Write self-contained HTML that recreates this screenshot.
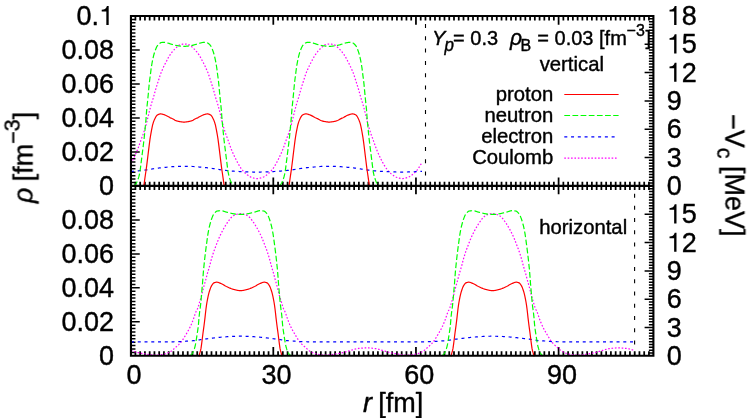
<!DOCTYPE html>
<html><head><meta charset="utf-8"><title>density profiles</title>
<style>
html,body{margin:0;padding:0;background:#fff;}
body{width:747px;height:418px;overflow:hidden;font-family:"Liberation Sans",sans-serif;}
svg{display:block;will-change:transform;}
text{font-family:"Liberation Sans",sans-serif;fill:#000;stroke:#000;stroke-width:0.4;stroke-linejoin:round;}
.c{fill:none;stroke-width:1.2;stroke-linejoin:round;}
</style></head><body>
<svg width="747" height="418" viewBox="0 0 747 418">
<defs><filter id="nf" x="0" y="0" width="747" height="418" filterUnits="userSpaceOnUse" color-interpolation-filters="sRGB"><feOffset dx="0" dy="0"/></filter></defs>
<rect width="747" height="418" fill="#fff"/>
<!-- ticks -->
<path d="M135.41,16.00L135.41,20.50M135.41,181.70L135.41,190.00M135.41,351.30L135.41,355.80M140.16,16.00L140.16,20.50M140.16,181.70L140.16,190.00M140.16,351.30L140.16,355.80M144.92,16.00L144.92,20.50M144.92,181.70L144.92,190.00M144.92,351.30L144.92,355.80M149.67,16.00L149.67,20.50M149.67,181.70L149.67,190.00M149.67,351.30L149.67,355.80M154.43,16.00L154.43,20.50M154.43,181.70L154.43,190.00M154.43,351.30L154.43,355.80M159.18,16.00L159.18,20.50M159.18,181.70L159.18,190.00M159.18,351.30L159.18,355.80M163.94,16.00L163.94,20.50M163.94,181.70L163.94,190.00M163.94,351.30L163.94,355.80M168.69,16.00L168.69,20.50M168.69,181.70L168.69,190.00M168.69,351.30L168.69,355.80M173.44,16.00L173.44,20.50M173.44,181.70L173.44,190.00M173.44,351.30L173.44,355.80M178.20,16.00L178.20,20.50M178.20,181.70L178.20,190.00M178.20,351.30L178.20,355.80M182.96,16.00L182.96,20.50M182.96,181.70L182.96,190.00M182.96,351.30L182.96,355.80M187.71,16.00L187.71,20.50M187.71,181.70L187.71,190.00M187.71,351.30L187.71,355.80M192.47,16.00L192.47,20.50M192.47,181.70L192.47,190.00M192.47,351.30L192.47,355.80M197.22,16.00L197.22,20.50M197.22,181.70L197.22,190.00M197.22,351.30L197.22,355.80M201.98,16.00L201.98,20.50M201.98,181.70L201.98,190.00M201.98,351.30L201.98,355.80M206.73,16.00L206.73,20.50M206.73,181.70L206.73,190.00M206.73,351.30L206.73,355.80M211.49,16.00L211.49,20.50M211.49,181.70L211.49,190.00M211.49,351.30L211.49,355.80M216.24,16.00L216.24,20.50M216.24,181.70L216.24,190.00M216.24,351.30L216.24,355.80M221.00,16.00L221.00,20.50M221.00,181.70L221.00,190.00M221.00,351.30L221.00,355.80M225.75,16.00L225.75,20.50M225.75,181.70L225.75,190.00M225.75,351.30L225.75,355.80M230.50,16.00L230.50,20.50M230.50,181.70L230.50,190.00M230.50,351.30L230.50,355.80M235.26,16.00L235.26,20.50M235.26,181.70L235.26,190.00M235.26,351.30L235.26,355.80M240.01,16.00L240.01,20.50M240.01,181.70L240.01,190.00M240.01,351.30L240.01,355.80M244.77,16.00L244.77,20.50M244.77,181.70L244.77,190.00M244.77,351.30L244.77,355.80M249.53,16.00L249.53,20.50M249.53,181.70L249.53,190.00M249.53,351.30L249.53,355.80M254.28,16.00L254.28,20.50M254.28,181.70L254.28,190.00M254.28,351.30L254.28,355.80M259.03,16.00L259.03,20.50M259.03,181.70L259.03,190.00M259.03,351.30L259.03,355.80M263.79,16.00L263.79,20.50M263.79,181.70L263.79,190.00M263.79,351.30L263.79,355.80M268.55,16.00L268.55,20.50M268.55,181.70L268.55,190.00M268.55,351.30L268.55,355.80M273.30,16.00L273.30,24.80M273.30,177.40L273.30,194.30M273.30,347.00L273.30,355.80M278.06,16.00L278.06,20.50M278.06,181.70L278.06,190.00M278.06,351.30L278.06,355.80M282.81,16.00L282.81,20.50M282.81,181.70L282.81,190.00M282.81,351.30L282.81,355.80M287.56,16.00L287.56,20.50M287.56,181.70L287.56,190.00M287.56,351.30L287.56,355.80M292.32,16.00L292.32,20.50M292.32,181.70L292.32,190.00M292.32,351.30L292.32,355.80M297.07,16.00L297.07,20.50M297.07,181.70L297.07,190.00M297.07,351.30L297.07,355.80M301.83,16.00L301.83,20.50M301.83,181.70L301.83,190.00M301.83,351.30L301.83,355.80M306.59,16.00L306.59,20.50M306.59,181.70L306.59,190.00M306.59,351.30L306.59,355.80M311.34,16.00L311.34,20.50M311.34,181.70L311.34,190.00M311.34,351.30L311.34,355.80M316.10,16.00L316.10,20.50M316.10,181.70L316.10,190.00M316.10,351.30L316.10,355.80M320.85,16.00L320.85,20.50M320.85,181.70L320.85,190.00M320.85,351.30L320.85,355.80M325.61,16.00L325.61,20.50M325.61,181.70L325.61,190.00M325.61,351.30L325.61,355.80M330.36,16.00L330.36,20.50M330.36,181.70L330.36,190.00M330.36,351.30L330.36,355.80M335.12,16.00L335.12,20.50M335.12,181.70L335.12,190.00M335.12,351.30L335.12,355.80M339.87,16.00L339.87,20.50M339.87,181.70L339.87,190.00M339.87,351.30L339.87,355.80M344.62,16.00L344.62,20.50M344.62,181.70L344.62,190.00M344.62,351.30L344.62,355.80M349.38,16.00L349.38,20.50M349.38,181.70L349.38,190.00M349.38,351.30L349.38,355.80M354.13,16.00L354.13,20.50M354.13,181.70L354.13,190.00M354.13,351.30L354.13,355.80M358.89,16.00L358.89,20.50M358.89,181.70L358.89,190.00M358.89,351.30L358.89,355.80M363.64,16.00L363.64,20.50M363.64,181.70L363.64,190.00M363.64,351.30L363.64,355.80M368.40,16.00L368.40,20.50M368.40,181.70L368.40,190.00M368.40,351.30L368.40,355.80M373.15,16.00L373.15,20.50M373.15,181.70L373.15,190.00M373.15,351.30L373.15,355.80M377.91,16.00L377.91,20.50M377.91,181.70L377.91,190.00M377.91,351.30L377.91,355.80M382.66,16.00L382.66,20.50M382.66,181.70L382.66,190.00M382.66,351.30L382.66,355.80M387.42,16.00L387.42,20.50M387.42,181.70L387.42,190.00M387.42,351.30L387.42,355.80M392.17,16.00L392.17,20.50M392.17,181.70L392.17,190.00M392.17,351.30L392.17,355.80M396.93,16.00L396.93,20.50M396.93,181.70L396.93,190.00M396.93,351.30L396.93,355.80M401.68,16.00L401.68,20.50M401.68,181.70L401.68,190.00M401.68,351.30L401.68,355.80M406.44,16.00L406.44,20.50M406.44,181.70L406.44,190.00M406.44,351.30L406.44,355.80M411.20,16.00L411.20,20.50M411.20,181.70L411.20,190.00M411.20,351.30L411.20,355.80M415.95,16.00L415.95,24.80M415.95,177.40L415.95,194.30M415.95,347.00L415.95,355.80M420.71,16.00L420.71,20.50M420.71,181.70L420.71,190.00M420.71,351.30L420.71,355.80M425.46,16.00L425.46,20.50M425.46,181.70L425.46,190.00M425.46,351.30L425.46,355.80M430.22,16.00L430.22,20.50M430.22,181.70L430.22,190.00M430.22,351.30L430.22,355.80M434.97,16.00L434.97,20.50M434.97,181.70L434.97,190.00M434.97,351.30L434.97,355.80M439.73,16.00L439.73,20.50M439.73,181.70L439.73,190.00M439.73,351.30L439.73,355.80M444.48,16.00L444.48,20.50M444.48,181.70L444.48,190.00M444.48,351.30L444.48,355.80M449.24,16.00L449.24,20.50M449.24,181.70L449.24,190.00M449.24,351.30L449.24,355.80M453.99,16.00L453.99,20.50M453.99,181.70L453.99,190.00M453.99,351.30L453.99,355.80M458.75,16.00L458.75,20.50M458.75,181.70L458.75,190.00M458.75,351.30L458.75,355.80M463.50,16.00L463.50,20.50M463.50,181.70L463.50,190.00M463.50,351.30L463.50,355.80M468.25,16.00L468.25,20.50M468.25,181.70L468.25,190.00M468.25,351.30L468.25,355.80M473.01,16.00L473.01,20.50M473.01,181.70L473.01,190.00M473.01,351.30L473.01,355.80M477.76,16.00L477.76,20.50M477.76,181.70L477.76,190.00M477.76,351.30L477.76,355.80M482.52,16.00L482.52,20.50M482.52,181.70L482.52,190.00M482.52,351.30L482.52,355.80M487.27,16.00L487.27,20.50M487.27,181.70L487.27,190.00M487.27,351.30L487.27,355.80M492.03,16.00L492.03,20.50M492.03,181.70L492.03,190.00M492.03,351.30L492.03,355.80M496.78,16.00L496.78,20.50M496.78,181.70L496.78,190.00M496.78,351.30L496.78,355.80M501.54,16.00L501.54,20.50M501.54,181.70L501.54,190.00M501.54,351.30L501.54,355.80M506.29,16.00L506.29,20.50M506.29,181.70L506.29,190.00M506.29,351.30L506.29,355.80M511.05,16.00L511.05,20.50M511.05,181.70L511.05,190.00M511.05,351.30L511.05,355.80M515.80,16.00L515.80,20.50M515.80,181.70L515.80,190.00M515.80,351.30L515.80,355.80M520.56,16.00L520.56,20.50M520.56,181.70L520.56,190.00M520.56,351.30L520.56,355.80M525.31,16.00L525.31,20.50M525.31,181.70L525.31,190.00M525.31,351.30L525.31,355.80M530.07,16.00L530.07,20.50M530.07,181.70L530.07,190.00M530.07,351.30L530.07,355.80M534.83,16.00L534.83,20.50M534.83,181.70L534.83,190.00M534.83,351.30L534.83,355.80M539.58,16.00L539.58,20.50M539.58,181.70L539.58,190.00M539.58,351.30L539.58,355.80M544.34,16.00L544.34,20.50M544.34,181.70L544.34,190.00M544.34,351.30L544.34,355.80M549.09,16.00L549.09,20.50M549.09,181.70L549.09,190.00M549.09,351.30L549.09,355.80M553.85,16.00L553.85,20.50M553.85,181.70L553.85,190.00M553.85,351.30L553.85,355.80M558.60,16.00L558.60,24.80M558.60,177.40L558.60,194.30M558.60,347.00L558.60,355.80M563.36,16.00L563.36,20.50M563.36,181.70L563.36,190.00M563.36,351.30L563.36,355.80M568.11,16.00L568.11,20.50M568.11,181.70L568.11,190.00M568.11,351.30L568.11,355.80M572.87,16.00L572.87,20.50M572.87,181.70L572.87,190.00M572.87,351.30L572.87,355.80M577.62,16.00L577.62,20.50M577.62,181.70L577.62,190.00M577.62,351.30L577.62,355.80M582.38,16.00L582.38,20.50M582.38,181.70L582.38,190.00M582.38,351.30L582.38,355.80M587.13,16.00L587.13,20.50M587.13,181.70L587.13,190.00M587.13,351.30L587.13,355.80M591.88,16.00L591.88,20.50M591.88,181.70L591.88,190.00M591.88,351.30L591.88,355.80M596.64,16.00L596.64,20.50M596.64,181.70L596.64,190.00M596.64,351.30L596.64,355.80M601.39,16.00L601.39,20.50M601.39,181.70L601.39,190.00M601.39,351.30L601.39,355.80M606.15,16.00L606.15,20.50M606.15,181.70L606.15,190.00M606.15,351.30L606.15,355.80M610.90,16.00L610.90,20.50M610.90,181.70L610.90,190.00M610.90,351.30L610.90,355.80M615.66,16.00L615.66,20.50M615.66,181.70L615.66,190.00M615.66,351.30L615.66,355.80M620.41,16.00L620.41,20.50M620.41,181.70L620.41,190.00M620.41,351.30L620.41,355.80M625.17,16.00L625.17,20.50M625.17,181.70L625.17,190.00M625.17,351.30L625.17,355.80M629.92,16.00L629.92,20.50M629.92,181.70L629.92,190.00M629.92,351.30L629.92,355.80M634.68,16.00L634.68,20.50M634.68,181.70L634.68,190.00M634.68,351.30L634.68,355.80M639.43,16.00L639.43,20.50M639.43,181.70L639.43,190.00M639.43,351.30L639.43,355.80M644.19,16.00L644.19,20.50M644.19,181.70L644.19,190.00M644.19,351.30L644.19,355.80M648.94,16.00L648.94,20.50M648.94,181.70L648.94,190.00M648.94,351.30L648.94,355.80" stroke="#000" stroke-width="1.75" fill="none"/>
<path d="M130.95,182.45L135.45,182.45M130.95,179.06L135.45,179.06M130.95,175.66L135.45,175.66M130.95,172.26L135.45,172.26M130.95,168.87L135.45,168.87M130.95,165.47L135.45,165.47M130.95,162.07L135.45,162.07M130.95,158.67L135.45,158.67M130.95,155.28L135.45,155.28M130.95,151.88L139.75,151.88M130.95,148.48L135.45,148.48M130.95,145.09L135.45,145.09M130.95,141.69L135.45,141.69M130.95,138.29L135.45,138.29M130.95,134.89L135.45,134.89M130.95,131.50L135.45,131.50M130.95,128.10L135.45,128.10M130.95,124.70L135.45,124.70M130.95,121.31L135.45,121.31M130.95,117.91L139.75,117.91M130.95,114.51L135.45,114.51M130.95,111.12L135.45,111.12M130.95,107.72L135.45,107.72M130.95,104.32L135.45,104.32M130.95,100.92L135.45,100.92M130.95,97.53L135.45,97.53M130.95,94.13L135.45,94.13M130.95,90.73L135.45,90.73M130.95,87.34L135.45,87.34M130.95,83.94L139.75,83.94M130.95,80.54L135.45,80.54M130.95,77.15L135.45,77.15M130.95,73.75L135.45,73.75M130.95,70.35L135.45,70.35M130.95,66.95L135.45,66.95M130.95,63.56L135.45,63.56M130.95,60.16L135.45,60.16M130.95,56.76L135.45,56.76M130.95,53.37L135.45,53.37M130.95,49.97L139.75,49.97M130.95,46.57L135.45,46.57M130.95,43.18L135.45,43.18M130.95,39.78L135.45,39.78M130.95,36.38L135.45,36.38M130.95,32.99L135.45,32.99M130.95,29.59L135.45,29.59M130.95,26.19L135.45,26.19M130.95,22.79L135.45,22.79M130.95,19.40L135.45,19.40M130.95,352.40L135.45,352.40M130.95,349.01L135.45,349.01M130.95,345.61L135.45,345.61M130.95,342.21L135.45,342.21M130.95,338.81L135.45,338.81M130.95,335.42L135.45,335.42M130.95,332.02L135.45,332.02M130.95,328.62L135.45,328.62M130.95,325.23L135.45,325.23M130.95,321.83L139.75,321.83M130.95,318.43L135.45,318.43M130.95,315.04L135.45,315.04M130.95,311.64L135.45,311.64M130.95,308.24L135.45,308.24M130.95,304.85L135.45,304.85M130.95,301.45L135.45,301.45M130.95,298.05L135.45,298.05M130.95,294.65L135.45,294.65M130.95,291.26L135.45,291.26M130.95,287.86L139.75,287.86M130.95,284.46L135.45,284.46M130.95,281.07L135.45,281.07M130.95,277.67L135.45,277.67M130.95,274.27L135.45,274.27M130.95,270.88L135.45,270.88M130.95,267.48L135.45,267.48M130.95,264.08L135.45,264.08M130.95,260.68L135.45,260.68M130.95,257.29L135.45,257.29M130.95,253.89L139.75,253.89M130.95,250.49L135.45,250.49M130.95,247.10L135.45,247.10M130.95,243.70L135.45,243.70M130.95,240.30L135.45,240.30M130.95,236.91L135.45,236.91M130.95,233.51L135.45,233.51M130.95,230.11L135.45,230.11M130.95,226.71L135.45,226.71M130.95,223.32L135.45,223.32M130.95,219.92L139.75,219.92M130.95,216.52L135.45,216.52M130.95,213.13L135.45,213.13M130.95,209.73L135.45,209.73M130.95,206.33L135.45,206.33M130.95,202.94L135.45,202.94M130.95,199.54L135.45,199.54M130.95,196.14L135.45,196.14M130.95,192.74L135.45,192.74M130.95,189.35L135.45,189.35M653.40,183.02L648.90,183.02M653.40,180.19L648.90,180.19M653.40,177.36L648.90,177.36M653.40,174.53L648.90,174.53M653.40,171.70L648.90,171.70M653.40,168.87L648.90,168.87M653.40,166.03L648.90,166.03M653.40,163.20L648.90,163.20M653.40,160.37L648.90,160.37M653.40,157.54L644.60,157.54M653.40,154.71L648.90,154.71M653.40,151.88L648.90,151.88M653.40,149.05L648.90,149.05M653.40,146.22L648.90,146.22M653.40,143.39L648.90,143.39M653.40,140.56L648.90,140.56M653.40,137.73L648.90,137.73M653.40,134.89L648.90,134.89M653.40,132.06L648.90,132.06M653.40,129.23L644.60,129.23M653.40,126.40L648.90,126.40M653.40,123.57L648.90,123.57M653.40,120.74L648.90,120.74M653.40,117.91L648.90,117.91M653.40,115.08L648.90,115.08M653.40,112.25L648.90,112.25M653.40,109.42L648.90,109.42M653.40,106.59L648.90,106.59M653.40,103.76L648.90,103.76M653.40,100.92L644.60,100.92M653.40,98.09L648.90,98.09M653.40,95.26L648.90,95.26M653.40,92.43L648.90,92.43M653.40,89.60L648.90,89.60M653.40,86.77L648.90,86.77M653.40,83.94L648.90,83.94M653.40,81.11L648.90,81.11M653.40,78.28L648.90,78.28M653.40,75.45L648.90,75.45M653.40,72.62L644.60,72.62M653.40,69.79L648.90,69.79M653.40,66.95L648.90,66.95M653.40,64.12L648.90,64.12M653.40,61.29L648.90,61.29M653.40,58.46L648.90,58.46M653.40,55.63L648.90,55.63M653.40,52.80L648.90,52.80M653.40,49.97L648.90,49.97M653.40,47.14L648.90,47.14M653.40,44.31L644.60,44.31M653.40,41.48L648.90,41.48M653.40,38.65L648.90,38.65M653.40,35.82L648.90,35.82M653.40,32.99L648.90,32.99M653.40,30.15L648.90,30.15M653.40,27.32L648.90,27.32M653.40,24.49L648.90,24.49M653.40,21.66L648.90,21.66M653.40,18.83L648.90,18.83M653.40,352.97L648.90,352.97M653.40,350.14L648.90,350.14M653.40,347.31L648.90,347.31M653.40,344.48L648.90,344.48M653.40,341.65L648.90,341.65M653.40,338.81L648.90,338.81M653.40,335.98L648.90,335.98M653.40,333.15L648.90,333.15M653.40,330.32L648.90,330.32M653.40,327.49L644.60,327.49M653.40,324.66L648.90,324.66M653.40,321.83L648.90,321.83M653.40,319.00L648.90,319.00M653.40,316.17L648.90,316.17M653.40,313.34L648.90,313.34M653.40,310.51L648.90,310.51M653.40,307.68L648.90,307.68M653.40,304.85L648.90,304.85M653.40,302.01L648.90,302.01M653.40,299.18L644.60,299.18M653.40,296.35L648.90,296.35M653.40,293.52L648.90,293.52M653.40,290.69L648.90,290.69M653.40,287.86L648.90,287.86M653.40,285.03L648.90,285.03M653.40,282.20L648.90,282.20M653.40,279.37L648.90,279.37M653.40,276.54L648.90,276.54M653.40,273.71L648.90,273.71M653.40,270.88L644.60,270.88M653.40,268.04L648.90,268.04M653.40,265.21L648.90,265.21M653.40,262.38L648.90,262.38M653.40,259.55L648.90,259.55M653.40,256.72L648.90,256.72M653.40,253.89L648.90,253.89M653.40,251.06L648.90,251.06M653.40,248.23L648.90,248.23M653.40,245.40L648.90,245.40M653.40,242.57L644.60,242.57M653.40,239.74L648.90,239.74M653.40,236.91L648.90,236.91M653.40,234.07L648.90,234.07M653.40,231.24L648.90,231.24M653.40,228.41L648.90,228.41M653.40,225.58L648.90,225.58M653.40,222.75L648.90,222.75M653.40,219.92L648.90,219.92M653.40,217.09L648.90,217.09M653.40,214.26L644.60,214.26M653.40,211.43L648.90,211.43M653.40,208.60L648.90,208.60M653.40,205.77L648.90,205.77M653.40,202.94L648.90,202.94M653.40,200.10L648.90,200.10M653.40,197.27L648.90,197.27M653.40,194.44L648.90,194.44M653.40,191.61L648.90,191.61M653.40,188.78L648.90,188.78" stroke="#000" stroke-width="1.5" fill="none"/>
<!-- vertical dashed period markers -->
<path d="M425.5,16V186" stroke="#000" stroke-width="1.1" stroke-dasharray="4.0 8.3" stroke-dashoffset="4.3" fill="none"/>
<path d="M634.6,186V356" stroke="#000" stroke-width="1.1" stroke-dasharray="4.0 8.23" stroke-dashoffset="4.6" fill="none"/>
<!-- curves: top panel -->
<path class="c" d="M131.00,163.43 L131.50,162.51 L132.00,161.56 L132.50,160.59 L133.00,159.60 L133.50,158.59 L134.00,157.56 L134.50,156.50 L135.00,155.43 L135.50,154.35 L136.00,153.26 L136.50,152.13 L137.00,150.97 L137.50,149.75 L138.00,148.46 L138.50,147.10 L139.00,145.71 L139.50,144.29 L140.00,142.88 L140.50,141.47 L141.00,140.04 L141.50,138.65 L142.00,137.31 L142.50,135.99 L143.00,134.64 L143.50,133.21 L144.00,131.71 L144.50,130.16 L145.00,128.55 L145.50,126.86 L146.00,125.07 L146.50,123.12 L147.00,121.07 L147.50,119.01 L148.00,116.99 L148.50,114.97 L149.00,112.94 L149.50,110.94 L150.00,108.98 L150.50,107.09 L151.00,105.25 L151.50,103.53 L152.00,101.92 L152.50,100.37 L153.00,98.81 L153.50,97.16 L154.00,95.40 L154.50,93.57 L155.00,91.73 L155.50,89.93 L156.00,88.23 L156.50,86.60 L157.00,85.02 L157.50,83.46 L158.00,81.92 L158.50,80.37 L159.00,78.79 L159.50,77.22 L160.00,75.69 L160.50,74.22 L161.00,72.86 L161.50,71.63 L162.00,70.51 L162.50,69.40 L163.00,68.25 L163.50,67.10 L164.00,66.00 L164.50,64.98 L165.00,64.00 L165.50,63.04 L166.00,62.11 L166.50,61.17 L167.00,60.21 L167.50,59.23 L168.00,58.26 L168.50,57.34 L169.00,56.50 L169.50,55.71 L170.00,54.94 L170.50,54.21 L171.00,53.51 L171.50,52.83 L172.00,52.18 L172.50,51.56 L173.00,50.97 L173.50,50.40 L174.00,49.86 L174.50,49.33 L175.00,48.82 L175.50,48.33 L176.00,47.85 L176.50,47.40 L177.00,46.94 L177.50,46.46 L178.00,45.99 L178.50,45.57 L179.00,45.23 L179.50,45.00 L180.00,44.84 L180.50,44.68 L181.00,44.54 L181.50,44.41 L182.00,44.29 L182.50,44.19 L183.00,44.11 L183.50,44.05 L184.00,44.01 L184.50,44.00 L185.00,44.01 L185.50,44.05 L186.00,44.11 L186.50,44.19 L187.00,44.29 L187.50,44.41 L188.00,44.54 L188.50,44.68 L189.00,44.84 L189.50,45.00 L190.00,45.23 L190.50,45.57 L191.00,45.99 L191.50,46.46 L192.00,46.94 L192.50,47.40 L193.00,47.85 L193.50,48.33 L194.00,48.82 L194.50,49.33 L195.00,49.86 L195.50,50.40 L196.00,50.97 L196.50,51.56 L197.00,52.18 L197.50,52.83 L198.00,53.51 L198.50,54.21 L199.00,54.94 L199.50,55.71 L200.00,56.50 L200.50,57.34 L201.00,58.26 L201.50,59.23 L202.00,60.21 L202.50,61.17 L203.00,62.11 L203.50,63.04 L204.00,64.00 L204.50,64.98 L205.00,66.00 L205.50,67.10 L206.00,68.25 L206.50,69.40 L207.00,70.51 L207.50,71.63 L208.00,72.86 L208.50,74.22 L209.00,75.69 L209.50,77.22 L210.00,78.79 L210.50,80.37 L211.00,81.92 L211.50,83.46 L212.00,85.02 L212.50,86.60 L213.00,88.23 L213.50,89.93 L214.00,91.73 L214.50,93.57 L215.00,95.40 L215.50,97.16 L216.00,98.81 L216.50,100.37 L217.00,101.92 L217.50,103.53 L218.00,105.25 L218.50,107.09 L219.00,108.98 L219.50,110.94 L220.00,112.94 L220.50,114.97 L221.00,116.99 L221.50,119.01 L222.00,121.07 L222.50,123.12 L223.00,125.07 L223.50,126.86 L224.00,128.55 L224.50,130.16 L225.00,131.71 L225.50,133.21 L226.00,134.64 L226.50,135.99 L227.00,137.31 L227.50,138.65 L228.00,140.04 L228.50,141.47 L229.00,142.88 L229.50,144.29 L230.00,145.71 L230.50,147.10 L231.00,148.46 L231.50,149.75 L232.00,150.97 L232.50,152.13 L233.00,153.26 L233.50,154.35 L234.00,155.43 L234.50,156.50 L235.00,157.56 L235.50,158.59 L236.00,159.60 L236.50,160.59 L237.00,161.56 L237.50,162.51 L238.00,163.43 L238.50,164.30 L239.00,165.14 L239.50,165.97 L240.00,166.77 L240.50,167.55 L241.00,168.30 L241.50,169.01 L242.00,169.67 L242.50,170.28 L243.00,170.85 L243.50,171.41 L244.00,171.94 L244.50,172.45 L245.00,172.94 L245.50,173.40 L246.00,173.83 L246.50,174.24 L247.00,174.63 L247.50,174.99 L248.00,175.35 L248.50,175.70 L249.00,176.03 L249.50,176.35 L250.00,176.65 L250.50,176.92 L251.00,177.16 L251.50,177.36 L252.00,177.53 L252.50,177.69 L253.00,177.84 L253.50,177.98 L254.00,178.12 L254.50,178.24 L255.00,178.35 L255.50,178.44 L256.00,178.52 L256.50,178.57 L257.00,178.60 L257.50,178.58 L258.00,178.54 L258.50,178.48 L259.00,178.39 L259.50,178.29 L260.00,178.17 L260.50,178.04 L261.00,177.90 L261.50,177.75 L262.00,177.59 L262.50,177.43 L263.00,177.24 L263.50,177.02 L264.00,176.76 L264.50,176.47 L265.00,176.16 L265.50,175.83 L266.00,175.49 L266.50,175.13 L267.00,174.77 L267.50,174.40 L268.00,174.00 L268.50,173.58 L269.00,173.12 L269.50,172.65 L270.00,172.15 L270.50,171.63 L271.00,171.08 L271.50,170.51 L272.00,169.92 L272.50,169.28 L273.00,168.59 L273.50,167.86 L274.00,167.09 L274.50,166.29 L275.00,165.47 L275.50,164.64 L276.00,163.78 L276.50,162.88 L277.00,161.95 L277.50,160.98 L278.00,160.00 L278.50,159.00 L279.00,157.98 L279.50,156.93 L280.00,155.86 L280.50,154.79 L281.00,153.70 L281.50,152.59 L282.00,151.44 L282.50,150.25 L283.00,148.99 L283.50,147.65 L284.00,146.27 L284.50,144.86 L285.00,143.44 L285.50,142.04 L286.00,140.61 L286.50,139.20 L287.00,137.84 L287.50,136.52 L288.00,135.19 L288.50,133.79 L289.00,132.31 L289.50,130.79 L290.00,129.20 L290.50,127.54 L291.00,125.80 L291.50,123.92 L292.00,121.90 L292.50,119.83 L293.00,117.80 L293.50,115.78 L294.00,113.75 L294.50,111.73 L295.00,109.76 L295.50,107.84 L296.00,105.98 L296.50,104.20 L297.00,102.55 L297.50,100.99 L298.00,99.44 L298.50,97.83 L299.00,96.11 L299.50,94.30 L300.00,92.46 L300.50,90.64 L301.00,88.90 L301.50,87.25 L302.00,85.65 L302.50,84.08 L303.00,82.53 L303.50,80.99 L304.00,79.42 L304.50,77.85 L305.00,76.30 L305.50,74.80 L306.00,73.39 L306.50,72.10 L307.00,70.95 L307.50,69.85 L308.00,68.71 L308.50,67.55 L309.00,66.43 L309.50,65.38 L310.00,64.38 L310.50,63.42 L311.00,62.48 L311.50,61.55 L312.00,60.60 L312.50,59.63 L313.00,58.65 L313.50,57.70 L314.00,56.83 L314.50,56.02 L315.00,55.25 L315.50,54.50 L316.00,53.79 L316.50,53.10 L317.00,52.44 L317.50,51.80 L318.00,51.20 L318.50,50.62 L319.00,50.07 L319.50,49.54 L320.00,49.02 L320.50,48.52 L321.00,48.04 L321.50,47.58 L322.00,47.13 L322.50,46.65 L323.00,46.18 L323.50,45.73 L324.00,45.36 L324.50,45.08 L325.00,44.90 L325.50,44.74 L326.00,44.59 L326.50,44.46 L327.00,44.33 L327.50,44.23 L328.00,44.14 L328.50,44.07 L329.00,44.02 L329.50,44.00 L330.00,44.00 L330.50,44.03 L331.00,44.08 L331.50,44.16 L332.00,44.25 L332.50,44.36 L333.00,44.48 L333.50,44.62 L334.00,44.77 L334.50,44.93 L335.00,45.13 L335.50,45.43 L336.00,45.82 L336.50,46.27 L337.00,46.75 L337.50,47.22 L338.00,47.67 L338.50,48.14 L339.00,48.62 L339.50,49.12 L340.00,49.64 L340.50,50.18 L341.00,50.74 L341.50,51.32 L342.00,51.93 L342.50,52.57 L343.00,53.24 L343.50,53.93 L344.00,54.65 L344.50,55.40 L345.00,56.18 L345.50,57.00 L346.00,57.89 L346.50,58.84 L347.00,59.82 L347.50,60.79 L348.00,61.73 L348.50,62.67 L349.00,63.61 L349.50,64.58 L350.00,65.58 L350.50,66.65 L351.00,67.78 L351.50,68.94 L352.00,70.07 L352.50,71.17 L353.00,72.35 L353.50,73.66 L354.00,75.09 L354.50,76.60 L355.00,78.16 L355.50,79.74 L356.00,81.30 L356.50,82.84 L357.00,84.39 L357.50,85.96 L358.00,87.57 L358.50,89.24 L359.00,91.00 L359.50,92.83 L360.00,94.67 L360.50,96.47 L361.00,98.16 L361.50,99.75 L362.00,101.30 L362.50,102.87 L363.00,104.55 L363.50,106.34 L364.00,108.22 L364.50,110.15 L365.00,112.13 L365.50,114.15 L366.00,116.18 L366.50,118.20 L367.00,120.24 L367.50,122.31 L368.00,124.31 L368.50,126.16 L369.00,127.88 L369.50,129.52 L370.00,131.10 L370.50,132.61 L371.00,134.08 L371.50,135.46 L372.00,136.79 L372.50,138.11 L373.00,139.48 L373.50,140.90 L374.00,142.32 L374.50,143.72 L375.00,145.14 L375.50,146.55 L376.00,147.92 L376.50,149.24 L377.00,150.49 L377.50,151.67 L378.00,152.81 L378.50,153.92 L379.00,155.00 L379.50,156.07 L380.00,157.14 L380.50,158.18 L381.00,159.20 L381.50,160.19 L382.00,161.17 L382.50,162.14 L383.00,163.07 L383.50,163.96 L384.00,164.80 L384.50,165.64 L385.00,166.45 L385.50,167.25 L386.00,168.01 L386.50,168.73 L387.00,169.41 L387.50,170.04 L388.00,170.63 L388.50,171.19 L389.00,171.73 L389.50,172.25 L390.00,172.75 L390.50,173.22 L391.00,173.66 L391.50,174.08 L392.00,174.48 L392.50,174.85 L393.00,175.21 L393.50,175.56 L394.00,175.90 L394.50,176.22 L395.00,176.53 L395.50,176.81 L396.00,177.06 L396.50,177.28 L397.00,177.47 L397.50,177.62 L398.00,177.78 L398.50,177.92 L399.00,178.06 L399.50,178.19 L400.00,178.31 L400.50,178.41 L401.00,178.49 L401.50,178.55 L402.00,178.59 L402.50,178.59 L403.00,178.56 L403.50,178.50 L404.00,178.43 L404.50,178.33 L405.00,178.22 L405.50,178.09 L406.00,177.95 L406.50,177.81 L407.00,177.66 L407.50,177.50 L408.00,177.32 L408.50,177.11 L409.00,176.86 L409.50,176.59 L410.00,176.29 L410.50,175.97 L411.00,175.63 L411.50,175.28 L412.00,174.92 L412.50,174.55 L413.00,174.16 L413.50,173.75 L414.00,173.31 L414.50,172.84 L415.00,172.35 L415.50,171.84 L416.00,171.30 L416.50,170.74 L417.00,170.16 L417.50,169.54 L418.00,168.87 L418.50,168.16 L419.00,167.40 L419.50,166.61 L420.00,165.80 L420.50,164.97 L421.00,164.13 L421.50,163.25 L422.00,162.32" stroke="#ff00ff" stroke-dasharray="1.6 1.78"/>
<path class="c" d="M131.00,171.39 L131.50,171.36 L132.00,171.33 L132.50,171.30 L133.00,171.27 L133.50,171.23 L134.00,171.20 L134.50,171.16 L135.00,171.12 L135.50,171.08 L136.00,171.04 L136.50,171.00 L137.00,170.95 L137.50,170.90 L138.00,170.85 L138.50,170.81 L139.00,170.75 L139.50,170.70 L140.00,170.65 L140.50,170.60 L141.00,170.55 L141.50,170.49 L142.00,170.44 L142.50,170.38 L143.00,170.33 L143.50,170.27 L144.00,170.21 L144.50,170.15 L145.00,170.09 L145.50,170.02 L146.00,169.96 L146.50,169.89 L147.00,169.83 L147.50,169.76 L148.00,169.68 L148.50,169.61 L149.00,169.53 L149.50,169.45 L150.00,169.36 L150.50,169.28 L151.00,169.19 L151.50,169.10 L152.00,169.02 L152.50,168.94 L153.00,168.85 L153.50,168.78 L154.00,168.70 L154.50,168.63 L155.00,168.55 L155.50,168.48 L156.00,168.41 L156.50,168.33 L157.00,168.26 L157.50,168.19 L158.00,168.12 L158.50,168.06 L159.00,167.99 L159.50,167.93 L160.00,167.87 L160.50,167.81 L161.00,167.76 L161.50,167.70 L162.00,167.65 L162.50,167.60 L163.00,167.55 L163.50,167.50 L164.00,167.46 L164.50,167.41 L165.00,167.37 L165.50,167.32 L166.00,167.28 L166.50,167.23 L167.00,167.19 L167.50,167.14 L168.00,167.10 L168.50,167.05 L169.00,167.01 L169.50,166.96 L170.00,166.90 L170.50,166.85 L171.00,166.80 L171.50,166.75 L172.00,166.71 L172.50,166.66 L173.00,166.62 L173.50,166.58 L174.00,166.55 L174.50,166.52 L175.00,166.50 L175.50,166.48 L176.00,166.46 L176.50,166.45 L177.00,166.43 L177.50,166.42 L178.00,166.40 L178.50,166.39 L179.00,166.37 L179.50,166.36 L180.00,166.35 L180.50,166.34 L181.00,166.33 L181.50,166.32 L182.00,166.31 L182.50,166.31 L183.00,166.30 L183.50,166.30 L184.00,166.30 L184.50,166.30 L185.00,166.30 L185.50,166.31 L186.00,166.31 L186.50,166.32 L187.00,166.33 L187.50,166.34 L188.00,166.35 L188.50,166.36 L189.00,166.37 L189.50,166.39 L190.00,166.40 L190.50,166.42 L191.00,166.43 L191.50,166.45 L192.00,166.46 L192.50,166.48 L193.00,166.50 L193.50,166.52 L194.00,166.55 L194.50,166.58 L195.00,166.62 L195.50,166.66 L196.00,166.71 L196.50,166.75 L197.00,166.80 L197.50,166.85 L198.00,166.90 L198.50,166.96 L199.00,167.01 L199.50,167.05 L200.00,167.10 L200.50,167.14 L201.00,167.19 L201.50,167.23 L202.00,167.28 L202.50,167.32 L203.00,167.37 L203.50,167.41 L204.00,167.46 L204.50,167.50 L205.00,167.55 L205.50,167.60 L206.00,167.65 L206.50,167.70 L207.00,167.76 L207.50,167.81 L208.00,167.87 L208.50,167.93 L209.00,167.99 L209.50,168.06 L210.00,168.12 L210.50,168.19 L211.00,168.26 L211.50,168.33 L212.00,168.41 L212.50,168.48 L213.00,168.55 L213.50,168.63 L214.00,168.70 L214.50,168.78 L215.00,168.85 L215.50,168.94 L216.00,169.02 L216.50,169.10 L217.00,169.19 L217.50,169.28 L218.00,169.36 L218.50,169.45 L219.00,169.53 L219.50,169.61 L220.00,169.68 L220.50,169.76 L221.00,169.83 L221.50,169.89 L222.00,169.96 L222.50,170.02 L223.00,170.09 L223.50,170.15 L224.00,170.21 L224.50,170.27 L225.00,170.33 L225.50,170.38 L226.00,170.44 L226.50,170.49 L227.00,170.55 L227.50,170.60 L228.00,170.65 L228.50,170.70 L229.00,170.75 L229.50,170.81 L230.00,170.85 L230.50,170.90 L231.00,170.95 L231.50,171.00 L232.00,171.04 L232.50,171.08 L233.00,171.12 L233.50,171.16 L234.00,171.20 L234.50,171.23 L235.00,171.27 L235.50,171.30 L236.00,171.33 L236.50,171.36 L237.00,171.39 L237.50,171.42 L238.00,171.45 L238.50,171.47 L239.00,171.50 L239.50,171.53 L240.00,171.55 L240.50,171.58 L241.00,171.60 L241.50,171.62 L242.00,171.65 L242.50,171.67 L243.00,171.70 L243.50,171.72 L244.00,171.74 L244.50,171.77 L245.00,171.79 L245.50,171.81 L246.00,171.83 L246.50,171.85 L247.00,171.87 L247.50,171.88 L248.00,171.90 L248.50,171.92 L249.00,171.93 L249.50,171.94 L250.00,171.96 L250.50,171.97 L251.00,171.99 L251.50,172.00 L252.00,172.01 L252.50,172.02 L253.00,172.04 L253.50,172.05 L254.00,172.06 L254.50,172.07 L255.00,172.08 L255.50,172.08 L256.00,172.09 L256.50,172.10 L257.00,172.09 L257.50,172.09 L258.00,172.08 L258.50,172.07 L259.00,172.06 L259.50,172.05 L260.00,172.04 L260.50,172.03 L261.00,172.02 L261.50,172.00 L262.00,171.99 L262.50,171.98 L263.00,171.96 L263.50,171.95 L264.00,171.94 L264.50,171.92 L265.00,171.91 L265.50,171.89 L266.00,171.87 L266.50,171.86 L267.00,171.84 L267.50,171.82 L268.00,171.80 L268.50,171.78 L269.00,171.75 L269.50,171.73 L270.00,171.71 L270.50,171.68 L271.00,171.66 L271.50,171.63 L272.00,171.61 L272.50,171.59 L273.00,171.56 L273.50,171.54 L274.00,171.51 L274.50,171.48 L275.00,171.46 L275.50,171.43 L276.00,171.40 L276.50,171.37 L277.00,171.34 L277.50,171.31 L278.00,171.28 L278.50,171.25 L279.00,171.21 L279.50,171.18 L280.00,171.14 L280.50,171.10 L281.00,171.06 L281.50,171.01 L282.00,170.97 L282.50,170.92 L283.00,170.87 L283.50,170.82 L284.00,170.77 L284.50,170.72 L285.00,170.67 L285.50,170.62 L286.00,170.57 L286.50,170.52 L287.00,170.46 L287.50,170.41 L288.00,170.35 L288.50,170.29 L289.00,170.23 L289.50,170.17 L290.00,170.11 L290.50,170.05 L291.00,169.99 L291.50,169.92 L292.00,169.85 L292.50,169.79 L293.00,169.71 L293.50,169.64 L294.00,169.56 L294.50,169.48 L295.00,169.40 L295.50,169.31 L296.00,169.22 L296.50,169.14 L297.00,169.05 L297.50,168.97 L298.00,168.89 L298.50,168.81 L299.00,168.73 L299.50,168.66 L300.00,168.58 L300.50,168.51 L301.00,168.43 L301.50,168.36 L302.00,168.29 L302.50,168.22 L303.00,168.15 L303.50,168.08 L304.00,168.02 L304.50,167.95 L305.00,167.89 L305.50,167.83 L306.00,167.78 L306.50,167.72 L307.00,167.67 L307.50,167.62 L308.00,167.57 L308.50,167.52 L309.00,167.48 L309.50,167.43 L310.00,167.38 L310.50,167.34 L311.00,167.29 L311.50,167.25 L312.00,167.21 L312.50,167.16 L313.00,167.12 L313.50,167.07 L314.00,167.02 L314.50,166.98 L315.00,166.92 L315.50,166.87 L316.00,166.82 L316.50,166.77 L317.00,166.72 L317.50,166.68 L318.00,166.64 L318.50,166.60 L319.00,166.56 L319.50,166.53 L320.00,166.51 L320.50,166.49 L321.00,166.47 L321.50,166.45 L322.00,166.44 L322.50,166.42 L323.00,166.41 L323.50,166.39 L324.00,166.38 L324.50,166.36 L325.00,166.35 L325.50,166.34 L326.00,166.33 L326.50,166.32 L327.00,166.32 L327.50,166.31 L328.00,166.30 L328.50,166.30 L329.00,166.30 L329.50,166.30 L330.00,166.30 L330.50,166.31 L331.00,166.31 L331.50,166.32 L332.00,166.32 L332.50,166.33 L333.00,166.34 L333.50,166.35 L334.00,166.37 L334.50,166.38 L335.00,166.39 L335.50,166.41 L336.00,166.42 L336.50,166.44 L337.00,166.46 L337.50,166.48 L338.00,166.49 L338.50,166.51 L339.00,166.54 L339.50,166.57 L340.00,166.60 L340.50,166.64 L341.00,166.69 L341.50,166.73 L342.00,166.78 L342.50,166.83 L343.00,166.88 L343.50,166.93 L344.00,166.99 L344.50,167.03 L345.00,167.08 L345.50,167.13 L346.00,167.17 L346.50,167.22 L347.00,167.26 L347.50,167.30 L348.00,167.35 L348.50,167.39 L349.00,167.44 L349.50,167.48 L350.00,167.53 L350.50,167.58 L351.00,167.63 L351.50,167.68 L352.00,167.73 L352.50,167.79 L353.00,167.85 L353.50,167.91 L354.00,167.97 L354.50,168.03 L355.00,168.10 L355.50,168.17 L356.00,168.23 L356.50,168.31 L357.00,168.38 L357.50,168.45 L358.00,168.52 L358.50,168.60 L359.00,168.67 L359.50,168.75 L360.00,168.82 L360.50,168.90 L361.00,168.99 L361.50,169.07 L362.00,169.16 L362.50,169.24 L363.00,169.33 L363.50,169.41 L364.00,169.50 L364.50,169.58 L365.00,169.65 L365.50,169.73 L366.00,169.80 L366.50,169.87 L367.00,169.93 L367.50,170.00 L368.00,170.06 L368.50,170.13 L369.00,170.19 L369.50,170.25 L370.00,170.30 L370.50,170.36 L371.00,170.42 L371.50,170.47 L372.00,170.53 L372.50,170.58 L373.00,170.63 L373.50,170.68 L374.00,170.73 L374.50,170.78 L375.00,170.83 L375.50,170.88 L376.00,170.93 L376.50,170.98 L377.00,171.02 L377.50,171.07 L378.00,171.11 L378.50,171.15 L379.00,171.19 L379.50,171.22 L380.00,171.25 L380.50,171.29 L381.00,171.32 L381.50,171.35 L382.00,171.38 L382.50,171.41 L383.00,171.44 L383.50,171.46 L384.00,171.49 L384.50,171.52 L385.00,171.54 L385.50,171.57 L386.00,171.59 L386.50,171.61 L387.00,171.64 L387.50,171.66 L388.00,171.69 L388.50,171.71 L389.00,171.73 L389.50,171.76 L390.00,171.78 L390.50,171.80 L391.00,171.82 L391.50,171.84 L392.00,171.86 L392.50,171.88 L393.00,171.89 L393.50,171.91 L394.00,171.92 L394.50,171.94 L395.00,171.95 L395.50,171.97 L396.00,171.98 L396.50,171.99 L397.00,172.01 L397.50,172.02 L398.00,172.03 L398.50,172.04 L399.00,172.05 L399.50,172.06 L400.00,172.07 L400.50,172.08 L401.00,172.09 L401.50,172.10 L402.00,172.10 L402.50,172.09 L403.00,172.08 L403.50,172.07 L404.00,172.07 L404.50,172.06 L405.00,172.04 L405.50,172.03 L406.00,172.02 L406.50,172.01 L407.00,172.00 L407.50,171.98 L408.00,171.97 L408.50,171.96 L409.00,171.94 L409.50,171.93 L410.00,171.91 L410.50,171.90 L411.00,171.88 L411.50,171.86 L412.00,171.84 L412.50,171.83 L413.00,171.81 L413.50,171.78 L414.00,171.76 L414.50,171.74 L415.00,171.72 L415.50,171.69 L416.00,171.67 L416.50,171.64 L417.00,171.62 L417.50,171.60 L418.00,171.57 L418.50,171.55 L419.00,171.52 L419.50,171.49 L420.00,171.47 L420.50,171.44 L421.00,171.41 L421.50,171.39 L422.00,171.36" stroke="#0000ff" stroke-dasharray="3.0 3.76"/>
<path class="c" d="M133.50,185.60 L134.00,185.49 L134.50,185.22 L135.00,184.85 L135.50,184.41 L136.00,183.77 L136.50,182.90 L137.00,181.85 L137.50,180.66 L138.00,179.37 L138.50,177.92 L139.00,176.14 L139.50,174.00 L140.00,171.43 L140.50,167.78 L141.00,163.70 L141.50,159.74 L142.00,155.70 L142.50,151.73 L143.00,147.80 L143.50,143.79 L144.00,139.65 L144.50,134.88 L145.00,129.74 L145.50,124.61 L146.00,119.10 L146.50,112.14 L147.00,106.57 L147.50,102.00 L148.00,96.98 L148.50,91.80 L149.00,86.27 L149.50,81.34 L150.00,77.54 L150.50,73.80 L151.00,69.66 L151.50,66.24 L152.00,63.25 L152.50,60.59 L153.00,58.26 L153.50,56.14 L154.00,54.21 L154.50,52.48 L155.00,51.00 L155.50,49.67 L156.00,48.42 L156.50,47.29 L157.00,46.32 L157.50,45.54 L158.00,44.97 L158.50,44.44 L159.00,43.96 L159.50,43.52 L160.00,43.15 L160.50,42.85 L161.00,42.63 L161.50,42.50 L162.00,42.42 L162.50,42.36 L163.00,42.32 L163.50,42.30 L164.00,42.32 L164.50,42.37 L165.00,42.44 L165.50,42.51 L166.00,42.60 L166.50,42.71 L167.00,42.83 L167.50,42.97 L168.00,43.10 L168.50,43.24 L169.00,43.41 L169.50,43.58 L170.00,43.75 L170.50,43.92 L171.00,44.07 L171.50,44.21 L172.00,44.36 L172.50,44.50 L173.00,44.65 L173.50,44.79 L174.00,44.93 L174.50,45.06 L175.00,45.19 L175.50,45.31 L176.00,45.42 L176.50,45.53 L177.00,45.62 L177.50,45.70 L178.00,45.77 L178.50,45.85 L179.00,45.92 L179.50,45.99 L180.00,46.05 L180.50,46.11 L181.00,46.17 L181.50,46.22 L182.00,46.27 L182.50,46.31 L183.00,46.35 L183.50,46.38 L184.00,46.40 L184.50,46.38 L185.00,46.35 L185.50,46.31 L186.00,46.27 L186.50,46.22 L187.00,46.17 L187.50,46.11 L188.00,46.05 L188.50,45.99 L189.00,45.92 L189.50,45.85 L190.00,45.77 L190.50,45.70 L191.00,45.62 L191.50,45.53 L192.00,45.42 L192.50,45.31 L193.00,45.19 L193.50,45.06 L194.00,44.93 L194.50,44.79 L195.00,44.65 L195.50,44.50 L196.00,44.36 L196.50,44.21 L197.00,44.07 L197.50,43.92 L198.00,43.75 L198.50,43.58 L199.00,43.41 L199.50,43.24 L200.00,43.10 L200.50,42.97 L201.00,42.83 L201.50,42.71 L202.00,42.60 L202.50,42.51 L203.00,42.44 L203.50,42.37 L204.00,42.32 L204.50,42.30 L205.00,42.32 L205.50,42.36 L206.00,42.42 L206.50,42.50 L207.00,42.63 L207.50,42.85 L208.00,43.15 L208.50,43.52 L209.00,43.96 L209.50,44.44 L210.00,44.97 L210.50,45.54 L211.00,46.32 L211.50,47.29 L212.00,48.42 L212.50,49.67 L213.00,51.00 L213.50,52.48 L214.00,54.21 L214.50,56.14 L215.00,58.26 L215.50,60.59 L216.00,63.25 L216.50,66.24 L217.00,69.66 L217.50,73.80 L218.00,77.54 L218.50,81.34 L219.00,86.27 L219.50,91.80 L220.00,96.98 L220.50,102.00 L221.00,106.57 L221.50,112.14 L222.00,119.10 L222.50,124.61 L223.00,129.74 L223.50,134.88 L224.00,139.65 L224.50,143.79 L225.00,147.80 L225.50,151.73 L226.00,155.70 L226.50,159.74 L227.00,163.70 L227.50,167.78 L228.00,171.43 L228.50,174.00 L229.00,176.14 L229.50,177.92 L230.00,179.37 L230.50,180.66 L231.00,181.85 L231.50,182.90 L232.00,183.77 L232.50,184.41 L233.00,184.85 L233.50,185.22 L234.00,185.49 L234.50,185.60 M279.00,185.56 L279.50,185.35 L280.00,185.01 L280.50,184.60 L281.00,184.05 L281.50,183.27 L282.00,182.29 L282.50,181.15 L283.00,179.89 L283.50,178.54 L284.00,176.90 L284.50,174.90 L285.00,172.52 L285.50,169.36 L286.00,165.30 L286.50,161.34 L287.00,157.31 L287.50,153.31 L288.00,149.38 L288.50,145.41 L289.00,141.35 L289.50,136.86 L290.00,131.81 L290.50,126.65 L291.00,121.41 L291.50,115.01 L292.00,108.52 L292.50,103.87 L293.00,99.01 L293.50,93.88 L294.00,88.51 L294.50,83.13 L295.00,78.99 L295.50,75.36 L296.00,71.29 L296.50,67.53 L297.00,64.41 L297.50,61.61 L298.00,59.15 L298.50,56.97 L299.00,54.96 L299.50,53.15 L300.00,51.56 L300.50,50.20 L301.00,48.91 L301.50,47.73 L302.00,46.68 L302.50,45.83 L303.00,45.19 L303.50,44.65 L304.00,44.15 L304.50,43.69 L305.00,43.29 L305.50,42.96 L306.00,42.71 L306.50,42.54 L307.00,42.45 L307.50,42.38 L308.00,42.33 L308.50,42.30 L309.00,42.31 L309.50,42.35 L310.00,42.41 L310.50,42.49 L311.00,42.56 L311.50,42.67 L312.00,42.78 L312.50,42.91 L313.00,43.05 L313.50,43.18 L314.00,43.34 L314.50,43.51 L315.00,43.68 L315.50,43.85 L316.00,44.01 L316.50,44.16 L317.00,44.30 L317.50,44.45 L318.00,44.59 L318.50,44.73 L319.00,44.87 L319.50,45.01 L320.00,45.14 L320.50,45.26 L321.00,45.38 L321.50,45.49 L322.00,45.58 L322.50,45.67 L323.00,45.74 L323.50,45.82 L324.00,45.89 L324.50,45.96 L325.00,46.03 L325.50,46.09 L326.00,46.15 L326.50,46.20 L327.00,46.25 L327.50,46.30 L328.00,46.34 L328.50,46.37 L329.00,46.39 L329.50,46.39 L330.00,46.36 L330.50,46.33 L331.00,46.29 L331.50,46.24 L332.00,46.19 L332.50,46.14 L333.00,46.08 L333.50,46.01 L334.00,45.95 L334.50,45.88 L335.00,45.80 L335.50,45.73 L336.00,45.65 L336.50,45.56 L337.00,45.46 L337.50,45.36 L338.00,45.24 L338.50,45.11 L339.00,44.98 L339.50,44.85 L340.00,44.70 L340.50,44.56 L341.00,44.42 L341.50,44.27 L342.00,44.13 L342.50,43.98 L343.00,43.82 L343.50,43.64 L344.00,43.47 L344.50,43.31 L345.00,43.16 L345.50,43.02 L346.00,42.89 L346.50,42.76 L347.00,42.64 L347.50,42.55 L348.00,42.47 L348.50,42.40 L349.00,42.34 L349.50,42.30 L350.00,42.31 L350.50,42.34 L351.00,42.40 L351.50,42.47 L352.00,42.57 L352.50,42.75 L353.00,43.02 L353.50,43.37 L354.00,43.78 L354.50,44.24 L355.00,44.75 L355.50,45.30 L356.00,45.98 L356.50,46.88 L357.00,47.95 L357.50,49.16 L358.00,50.46 L358.50,51.86 L359.00,53.49 L359.50,55.34 L360.00,57.39 L360.50,59.62 L361.00,62.15 L361.50,65.01 L362.00,68.20 L362.50,72.13 L363.00,76.10 L363.50,79.74 L364.00,84.13 L364.50,89.63 L365.00,94.92 L365.50,100.02 L366.00,104.77 L366.50,109.60 L367.00,116.45 L367.50,122.50 L368.00,127.67 L368.50,132.84 L369.00,137.82 L369.50,142.18 L370.00,146.21 L370.50,150.16 L371.00,154.10 L371.50,158.12 L372.00,162.13 L372.50,166.13 L373.00,170.10 L373.50,173.03 L374.00,175.33 L374.50,177.25 L375.00,178.82 L375.50,180.15 L376.00,181.39 L376.50,182.50 L377.00,183.44 L377.50,184.18 L378.00,184.68 L378.50,185.08 L379.00,185.40 L379.50,185.58" stroke="#00ff00" stroke-dasharray="5.75 2.4"/>
<path class="c" d="M143.50,186.50 L144.00,184.79 L144.50,181.16 L145.00,177.52 L145.50,174.02 L146.00,170.78 L146.50,167.16 L147.00,163.15 L147.50,159.09 L148.00,155.00 L148.50,150.91 L149.00,146.88 L149.50,142.87 L150.00,139.20 L150.50,135.99 L151.00,133.09 L151.50,130.39 L152.00,127.79 L152.50,125.45 L153.00,123.56 L153.50,121.99 L154.00,120.62 L154.50,119.43 L155.00,118.41 L155.50,117.44 L156.00,116.55 L156.50,115.79 L157.00,115.24 L157.50,114.92 L158.00,114.65 L158.50,114.41 L159.00,114.21 L159.50,114.05 L160.00,113.95 L160.50,113.90 L161.00,113.92 L161.50,113.98 L162.00,114.07 L162.50,114.20 L163.00,114.35 L163.50,114.51 L164.00,114.67 L164.50,114.83 L165.00,115.02 L165.50,115.23 L166.00,115.46 L166.50,115.72 L167.00,115.98 L167.50,116.24 L168.00,116.50 L168.50,116.77 L169.00,117.05 L169.50,117.33 L170.00,117.60 L170.50,117.85 L171.00,118.08 L171.50,118.31 L172.00,118.53 L172.50,118.76 L173.00,119.00 L173.50,119.27 L174.00,119.57 L174.50,119.88 L175.00,120.17 L175.50,120.43 L176.00,120.64 L176.50,120.81 L177.00,120.98 L177.50,121.12 L178.00,121.25 L178.50,121.36 L179.00,121.46 L179.50,121.55 L180.00,121.64 L180.50,121.72 L181.00,121.80 L181.50,121.87 L182.00,121.94 L182.50,122.00 L183.00,122.04 L183.50,122.08 L184.00,122.10 L184.50,122.08 L185.00,122.04 L185.50,122.00 L186.00,121.94 L186.50,121.87 L187.00,121.80 L187.50,121.72 L188.00,121.64 L188.50,121.55 L189.00,121.46 L189.50,121.36 L190.00,121.25 L190.50,121.12 L191.00,120.98 L191.50,120.81 L192.00,120.64 L192.50,120.43 L193.00,120.17 L193.50,119.88 L194.00,119.57 L194.50,119.27 L195.00,119.00 L195.50,118.76 L196.00,118.53 L196.50,118.31 L197.00,118.08 L197.50,117.85 L198.00,117.60 L198.50,117.33 L199.00,117.05 L199.50,116.77 L200.00,116.50 L200.50,116.24 L201.00,115.98 L201.50,115.72 L202.00,115.46 L202.50,115.23 L203.00,115.02 L203.50,114.83 L204.00,114.67 L204.50,114.51 L205.00,114.35 L205.50,114.20 L206.00,114.07 L206.50,113.98 L207.00,113.92 L207.50,113.90 L208.00,113.95 L208.50,114.05 L209.00,114.21 L209.50,114.41 L210.00,114.65 L210.50,114.92 L211.00,115.24 L211.50,115.79 L212.00,116.55 L212.50,117.44 L213.00,118.41 L213.50,119.43 L214.00,120.62 L214.50,121.99 L215.00,123.56 L215.50,125.45 L216.00,127.79 L216.50,130.39 L217.00,133.09 L217.50,135.99 L218.00,139.20 L218.50,142.87 L219.00,146.88 L219.50,150.91 L220.00,155.00 L220.50,159.09 L221.00,163.15 L221.50,167.16 L222.00,170.78 L222.50,174.02 L223.00,177.52 L223.50,181.16 L224.00,184.79 L224.50,186.50 M289.00,186.21 L289.50,182.62 L290.00,178.97 L290.50,175.39 L291.00,172.08 L291.50,168.67 L292.00,164.78 L292.50,160.71 L293.00,156.65 L293.50,152.53 L294.00,148.50 L294.50,144.46 L295.00,140.60 L295.50,137.24 L296.00,134.22 L296.50,131.46 L297.00,128.81 L297.50,126.34 L298.00,124.26 L298.50,122.59 L299.00,121.15 L299.50,119.88 L300.00,118.80 L300.50,117.82 L301.00,116.89 L301.50,116.07 L302.00,115.43 L302.50,115.04 L303.00,114.76 L303.50,114.50 L304.00,114.29 L304.50,114.11 L305.00,113.98 L305.50,113.91 L306.00,113.90 L306.50,113.95 L307.00,114.03 L307.50,114.15 L308.00,114.29 L308.50,114.44 L309.00,114.61 L309.50,114.77 L310.00,114.94 L310.50,115.14 L311.00,115.37 L311.50,115.61 L312.00,115.87 L312.50,116.14 L313.00,116.40 L313.50,116.66 L314.00,116.93 L314.50,117.21 L315.00,117.49 L315.50,117.75 L316.00,117.99 L316.50,118.22 L317.00,118.44 L317.50,118.66 L318.00,118.90 L318.50,119.16 L319.00,119.45 L319.50,119.75 L320.00,120.06 L320.50,120.33 L321.00,120.56 L321.50,120.75 L322.00,120.91 L322.50,121.07 L323.00,121.20 L323.50,121.32 L324.00,121.42 L324.50,121.51 L325.00,121.60 L325.50,121.69 L326.00,121.77 L326.50,121.85 L327.00,121.91 L327.50,121.97 L328.00,122.03 L328.50,122.07 L329.00,122.09 L329.50,122.09 L330.00,122.06 L330.50,122.02 L331.00,121.96 L331.50,121.90 L332.00,121.83 L332.50,121.75 L333.00,121.67 L333.50,121.58 L334.00,121.49 L334.50,121.40 L335.00,121.30 L335.50,121.18 L336.00,121.04 L336.50,120.88 L337.00,120.71 L337.50,120.52 L338.00,120.28 L338.50,120.00 L339.00,119.69 L339.50,119.39 L340.00,119.10 L340.50,118.85 L341.00,118.62 L341.50,118.39 L342.00,118.17 L342.50,117.94 L343.00,117.70 L343.50,117.44 L344.00,117.16 L344.50,116.88 L345.00,116.60 L345.50,116.35 L346.00,116.08 L346.50,115.82 L347.00,115.56 L347.50,115.32 L348.00,115.10 L348.50,114.90 L349.00,114.74 L349.50,114.57 L350.00,114.41 L350.50,114.26 L351.00,114.12 L351.50,114.01 L352.00,113.93 L352.50,113.90 L353.00,113.92 L353.50,114.00 L354.00,114.14 L354.50,114.33 L355.00,114.55 L355.50,114.81 L356.00,115.10 L356.50,115.54 L357.00,116.22 L357.50,117.07 L358.00,118.02 L358.50,119.00 L359.00,120.12 L359.50,121.42 L360.00,122.91 L360.50,124.63 L361.00,126.81 L361.50,129.33 L362.00,132.00 L362.50,134.80 L363.00,137.88 L363.50,141.34 L364.00,145.26 L364.50,149.30 L365.00,153.35 L365.50,157.47 L366.00,161.52 L366.50,165.58 L367.00,169.40 L367.50,172.72 L368.00,176.09 L368.50,179.70 L369.00,183.35 L369.50,186.50" stroke="#ff0000"/>
<!-- curves: bottom panel -->
<path class="c" d="M131.00,350.59 L131.50,350.73 L132.00,350.88 L132.50,351.04 L133.00,351.19 L133.50,351.35 L134.00,351.50 L134.50,351.65 L135.00,351.80 L135.50,351.95 L136.00,352.09 L136.50,352.23 L137.00,352.36 L137.50,352.48 L138.00,352.60 L138.50,352.71 L139.00,352.82 L139.50,352.92 L140.00,353.03 L140.50,353.13 L141.00,353.22 L141.50,353.32 L142.00,353.41 L142.50,353.50 L143.00,353.59 L143.50,353.67 L144.00,353.76 L144.50,353.85 L145.00,353.93 L145.50,354.02 L146.00,354.10 L146.50,354.19 L147.00,354.27 L147.50,354.36 L148.00,354.44 L148.50,354.53 L149.00,354.60 L149.50,354.68 L150.00,354.74 L150.50,354.80 L151.00,354.85 L151.50,354.91 L152.00,354.96 L152.50,355.02 L153.00,355.07 L153.50,355.11 L154.00,355.15 L154.50,355.18 L155.00,355.19 L155.50,355.20 L156.00,355.19 L156.50,355.17 L157.00,355.13 L157.50,355.09 L158.00,355.03 L158.50,354.97 L159.00,354.90 L159.50,354.84 L160.00,354.77 L160.50,354.70 L161.00,354.63 L161.50,354.56 L162.00,354.48 L162.50,354.39 L163.00,354.29 L163.50,354.19 L164.00,354.09 L164.50,353.97 L165.00,353.85 L165.50,353.71 L166.00,353.56 L166.50,353.38 L167.00,353.20 L167.50,353.01 L168.00,352.80 L168.50,352.58 L169.00,352.34 L169.50,352.09 L170.00,351.82 L170.50,351.53 L171.00,351.22 L171.50,350.90 L172.00,350.55 L172.50,350.16 L173.00,349.74 L173.50,349.30 L174.00,348.85 L174.50,348.39 L175.00,347.94 L175.50,347.50 L176.00,347.07 L176.50,346.65 L177.00,346.23 L177.50,345.81 L178.00,345.36 L178.50,344.90 L179.00,344.40 L179.50,343.87 L180.00,343.31 L180.50,342.72 L181.00,342.11 L181.50,341.47 L182.00,340.80 L182.50,340.10 L183.00,339.36 L183.50,338.59 L184.00,337.80 L184.50,336.98 L185.00,336.14 L185.50,335.30 L186.00,334.45 L186.50,333.60 L187.00,332.76 L187.50,331.91 L188.00,331.05 L188.50,330.17 L189.00,329.25 L189.50,328.30 L190.00,327.29 L190.50,326.23 L191.00,325.13 L191.50,323.98 L192.00,322.80 L192.50,321.57 L193.00,320.30 L193.50,318.93 L194.00,317.43 L194.50,315.89 L195.00,314.37 L195.50,312.96 L196.00,311.74 L196.50,310.71 L197.00,309.74 L197.50,308.68 L198.00,307.39 L198.50,305.87 L199.00,304.22 L199.50,302.51 L200.00,300.84 L200.50,299.17 L201.00,297.47 L201.50,295.72 L202.00,293.90 L202.50,291.94 L203.00,289.87 L203.50,287.81 L204.00,285.88 L204.50,284.10 L205.00,282.40 L205.50,280.68 L206.00,278.85 L206.50,276.89 L207.00,274.94 L207.50,273.15 L208.00,271.48 L208.50,269.86 L209.00,268.19 L209.50,266.42 L210.00,264.53 L210.50,262.60 L211.00,260.70 L211.50,258.90 L212.00,257.20 L212.50,255.55 L213.00,253.96 L213.50,252.43 L214.00,250.96 L214.50,249.57 L215.00,248.23 L215.50,246.94 L216.00,245.66 L216.50,244.38 L217.00,243.07 L217.50,241.75 L218.00,240.44 L218.50,239.20 L219.00,238.03 L219.50,236.89 L220.00,235.79 L220.50,234.73 L221.00,233.70 L221.50,232.70 L222.00,231.73 L222.50,230.78 L223.00,229.85 L223.50,228.94 L224.00,228.06 L224.50,227.20 L225.00,226.35 L225.50,225.52 L226.00,224.71 L226.50,223.92 L227.00,223.16 L227.50,222.42 L228.00,221.72 L228.50,221.02 L229.00,220.32 L229.50,219.63 L230.00,218.97 L230.50,218.34 L231.00,217.76 L231.50,217.24 L232.00,216.78 L232.50,216.38 L233.00,216.01 L233.50,215.67 L234.00,215.36 L234.50,215.09 L235.00,214.87 L235.50,214.70 L236.00,214.53 L236.50,214.36 L237.00,214.21 L237.50,214.06 L238.00,213.93 L238.50,213.82 L239.00,213.73 L239.50,213.66 L240.00,213.62 L240.50,213.60 L241.00,213.62 L241.50,213.66 L242.00,213.73 L242.50,213.82 L243.00,213.93 L243.50,214.06 L244.00,214.21 L244.50,214.36 L245.00,214.53 L245.50,214.70 L246.00,214.87 L246.50,215.09 L247.00,215.36 L247.50,215.67 L248.00,216.01 L248.50,216.38 L249.00,216.78 L249.50,217.24 L250.00,217.76 L250.50,218.34 L251.00,218.97 L251.50,219.63 L252.00,220.32 L252.50,221.02 L253.00,221.72 L253.50,222.42 L254.00,223.16 L254.50,223.92 L255.00,224.71 L255.50,225.52 L256.00,226.35 L256.50,227.20 L257.00,228.06 L257.50,228.94 L258.00,229.85 L258.50,230.78 L259.00,231.73 L259.50,232.70 L260.00,233.70 L260.50,234.73 L261.00,235.79 L261.50,236.89 L262.00,238.03 L262.50,239.20 L263.00,240.44 L263.50,241.75 L264.00,243.07 L264.50,244.38 L265.00,245.66 L265.50,246.94 L266.00,248.23 L266.50,249.57 L267.00,250.96 L267.50,252.43 L268.00,253.96 L268.50,255.55 L269.00,257.20 L269.50,258.90 L270.00,260.70 L270.50,262.60 L271.00,264.53 L271.50,266.42 L272.00,268.19 L272.50,269.86 L273.00,271.48 L273.50,273.15 L274.00,274.94 L274.50,276.89 L275.00,278.85 L275.50,280.68 L276.00,282.40 L276.50,284.10 L277.00,285.88 L277.50,287.81 L278.00,289.87 L278.50,291.94 L279.00,293.90 L279.50,295.72 L280.00,297.47 L280.50,299.17 L281.00,300.84 L281.50,302.51 L282.00,304.22 L282.50,305.87 L283.00,307.39 L283.50,308.68 L284.00,309.74 L284.50,310.71 L285.00,311.74 L285.50,312.96 L286.00,314.37 L286.50,315.89 L287.00,317.43 L287.50,318.93 L288.00,320.30 L288.50,321.57 L289.00,322.80 L289.50,323.98 L290.00,325.13 L290.50,326.23 L291.00,327.29 L291.50,328.30 L292.00,329.25 L292.50,330.17 L293.00,331.05 L293.50,331.91 L294.00,332.76 L294.50,333.60 L295.00,334.45 L295.50,335.30 L296.00,336.14 L296.50,336.98 L297.00,337.80 L297.50,338.59 L298.00,339.36 L298.50,340.10 L299.00,340.80 L299.50,341.47 L300.00,342.11 L300.50,342.72 L301.00,343.31 L301.50,343.87 L302.00,344.40 L302.50,344.90 L303.00,345.36 L303.50,345.81 L304.00,346.23 L304.50,346.65 L305.00,347.07 L305.50,347.50 L306.00,347.94 L306.50,348.39 L307.00,348.85 L307.50,349.30 L308.00,349.74 L308.50,350.16 L309.00,350.55 L309.50,350.90 L310.00,351.22 L310.50,351.53 L311.00,351.82 L311.50,352.09 L312.00,352.34 L312.50,352.58 L313.00,352.80 L313.50,353.01 L314.00,353.20 L314.50,353.38 L315.00,353.56 L315.50,353.71 L316.00,353.85 L316.50,353.97 L317.00,354.09 L317.50,354.19 L318.00,354.29 L318.50,354.39 L319.00,354.48 L319.50,354.56 L320.00,354.63 L320.50,354.70 L321.00,354.77 L321.50,354.84 L322.00,354.90 L322.50,354.97 L323.00,355.03 L323.50,355.09 L324.00,355.13 L324.50,355.17 L325.00,355.19 L325.50,355.20 L326.00,355.19 L326.50,355.18 L327.00,355.15 L327.50,355.11 L328.00,355.07 L328.50,355.02 L329.00,354.96 L329.50,354.91 L330.00,354.85 L330.50,354.80 L331.00,354.74 L331.50,354.68 L332.00,354.60 L332.50,354.53 L333.00,354.44 L333.50,354.36 L334.00,354.27 L334.50,354.19 L335.00,354.10 L335.50,354.02 L336.00,353.93 L336.50,353.85 L337.00,353.76 L337.50,353.67 L338.00,353.59 L338.50,353.50 L339.00,353.41 L339.50,353.32 L340.00,353.22 L340.50,353.13 L341.00,353.03 L341.50,352.92 L342.00,352.82 L342.50,352.71 L343.00,352.60 L343.50,352.48 L344.00,352.36 L344.50,352.23 L345.00,352.09 L345.50,351.95 L346.00,351.80 L346.50,351.65 L347.00,351.50 L347.50,351.35 L348.00,351.19 L348.50,351.04 L349.00,350.88 L349.50,350.73 L350.00,350.59 L350.50,350.44 L351.00,350.30 L351.50,350.16 L352.00,350.01 L352.50,349.85 L353.00,349.70 L353.50,349.54 L354.00,349.39 L354.50,349.24 L355.00,349.10 L355.50,348.97 L356.00,348.85 L356.50,348.74 L357.00,348.66 L357.50,348.59 L358.00,348.53 L358.50,348.47 L359.00,348.41 L359.50,348.35 L360.00,348.30 L360.50,348.25 L361.00,348.20 L361.50,348.15 L362.00,348.11 L362.50,348.07 L363.00,348.03 L363.50,348.00 L364.00,347.97 L364.50,347.94 L365.00,347.93 L365.50,347.91 L366.00,347.90 L366.50,347.90 L367.00,347.90 L367.50,347.91 L368.00,347.93 L368.50,347.94 L369.00,347.97 L369.50,348.00 L370.00,348.03 L370.50,348.07 L371.00,348.11 L371.50,348.15 L372.00,348.20 L372.50,348.25 L373.00,348.30 L373.50,348.35 L374.00,348.41 L374.50,348.47 L375.00,348.53 L375.50,348.59 L376.00,348.66 L376.50,348.74 L377.00,348.85 L377.50,348.97 L378.00,349.10 L378.50,349.24 L379.00,349.39 L379.50,349.54 L380.00,349.70 L380.50,349.85 L381.00,350.01 L381.50,350.16 L382.00,350.30 L382.50,350.44 L383.00,350.59 L383.50,350.73 L384.00,350.88 L384.50,351.04 L385.00,351.19 L385.50,351.35 L386.00,351.50 L386.50,351.65 L387.00,351.80 L387.50,351.95 L388.00,352.09 L388.50,352.23 L389.00,352.36 L389.50,352.48 L390.00,352.60 L390.50,352.71 L391.00,352.82 L391.50,352.92 L392.00,353.03 L392.50,353.13 L393.00,353.22 L393.50,353.32 L394.00,353.41 L394.50,353.50 L395.00,353.59 L395.50,353.67 L396.00,353.76 L396.50,353.85 L397.00,353.93 L397.50,354.02 L398.00,354.10 L398.50,354.19 L399.00,354.27 L399.50,354.36 L400.00,354.44 L400.50,354.53 L401.00,354.60 L401.50,354.68 L402.00,354.74 L402.50,354.80 L403.00,354.85 L403.50,354.91 L404.00,354.96 L404.50,355.02 L405.00,355.07 L405.50,355.11 L406.00,355.15 L406.50,355.18 L407.00,355.19 L407.50,355.20 L408.00,355.19 L408.50,355.17 L409.00,355.13 L409.50,355.09 L410.00,355.03 L410.50,354.97 L411.00,354.90 L411.50,354.84 L412.00,354.77 L412.50,354.70 L413.00,354.63 L413.50,354.56 L414.00,354.48 L414.50,354.39 L415.00,354.29 L415.50,354.19 L416.00,354.09 L416.50,353.97 L417.00,353.85 L417.50,353.71 L418.00,353.56 L418.50,353.38 L419.00,353.20 L419.50,353.01 L420.00,352.80 L420.50,352.58 L421.00,352.34 L421.50,352.09 L422.00,351.82 L422.50,351.53 L423.00,351.22 L423.50,350.90 L424.00,350.55 L424.50,350.16 L425.00,349.74 L425.50,349.30 L426.00,348.85 L426.50,348.39 L427.00,347.94 L427.50,347.50 L428.00,347.07 L428.50,346.65 L429.00,346.23 L429.50,345.81 L430.00,345.36 L430.50,344.90 L431.00,344.40 L431.50,343.87 L432.00,343.31 L432.50,342.72 L433.00,342.11 L433.50,341.47 L434.00,340.80 L434.50,340.10 L435.00,339.36 L435.50,338.59 L436.00,337.80 L436.50,336.98 L437.00,336.14 L437.50,335.30 L438.00,334.45 L438.50,333.60 L439.00,332.76 L439.50,331.91 L440.00,331.05 L440.50,330.17 L441.00,329.25 L441.50,328.30 L442.00,327.29 L442.50,326.23 L443.00,325.13 L443.50,323.98 L444.00,322.80 L444.50,321.57 L445.00,320.30 L445.50,318.93 L446.00,317.43 L446.50,315.89 L447.00,314.37 L447.50,312.96 L448.00,311.74 L448.50,310.71 L449.00,309.74 L449.50,308.68 L450.00,307.39 L450.50,305.87 L451.00,304.22 L451.50,302.51 L452.00,300.84 L452.50,299.17 L453.00,297.47 L453.50,295.72 L454.00,293.90 L454.50,291.94 L455.00,289.87 L455.50,287.81 L456.00,285.88 L456.50,284.10 L457.00,282.40 L457.50,280.68 L458.00,278.85 L458.50,276.89 L459.00,274.94 L459.50,273.15 L460.00,271.48 L460.50,269.86 L461.00,268.19 L461.50,266.42 L462.00,264.53 L462.50,262.60 L463.00,260.70 L463.50,258.90 L464.00,257.20 L464.50,255.55 L465.00,253.96 L465.50,252.43 L466.00,250.96 L466.50,249.57 L467.00,248.23 L467.50,246.94 L468.00,245.66 L468.50,244.38 L469.00,243.07 L469.50,241.75 L470.00,240.44 L470.50,239.20 L471.00,238.03 L471.50,236.89 L472.00,235.79 L472.50,234.73 L473.00,233.70 L473.50,232.70 L474.00,231.73 L474.50,230.78 L475.00,229.85 L475.50,228.94 L476.00,228.06 L476.50,227.20 L477.00,226.35 L477.50,225.52 L478.00,224.71 L478.50,223.92 L479.00,223.16 L479.50,222.42 L480.00,221.72 L480.50,221.02 L481.00,220.32 L481.50,219.63 L482.00,218.97 L482.50,218.34 L483.00,217.76 L483.50,217.24 L484.00,216.78 L484.50,216.38 L485.00,216.01 L485.50,215.67 L486.00,215.36 L486.50,215.09 L487.00,214.87 L487.50,214.70 L488.00,214.53 L488.50,214.36 L489.00,214.21 L489.50,214.06 L490.00,213.93 L490.50,213.82 L491.00,213.73 L491.50,213.66 L492.00,213.62 L492.50,213.60 L493.00,213.62 L493.50,213.66 L494.00,213.73 L494.50,213.82 L495.00,213.93 L495.50,214.06 L496.00,214.21 L496.50,214.36 L497.00,214.53 L497.50,214.70 L498.00,214.87 L498.50,215.09 L499.00,215.36 L499.50,215.67 L500.00,216.01 L500.50,216.38 L501.00,216.78 L501.50,217.24 L502.00,217.76 L502.50,218.34 L503.00,218.97 L503.50,219.63 L504.00,220.32 L504.50,221.02 L505.00,221.72 L505.50,222.42 L506.00,223.16 L506.50,223.92 L507.00,224.71 L507.50,225.52 L508.00,226.35 L508.50,227.20 L509.00,228.06 L509.50,228.94 L510.00,229.85 L510.50,230.78 L511.00,231.73 L511.50,232.70 L512.00,233.70 L512.50,234.73 L513.00,235.79 L513.50,236.89 L514.00,238.03 L514.50,239.20 L515.00,240.44 L515.50,241.75 L516.00,243.07 L516.50,244.38 L517.00,245.66 L517.50,246.94 L518.00,248.23 L518.50,249.57 L519.00,250.96 L519.50,252.43 L520.00,253.96 L520.50,255.55 L521.00,257.20 L521.50,258.90 L522.00,260.70 L522.50,262.60 L523.00,264.53 L523.50,266.42 L524.00,268.19 L524.50,269.86 L525.00,271.48 L525.50,273.15 L526.00,274.94 L526.50,276.89 L527.00,278.85 L527.50,280.68 L528.00,282.40 L528.50,284.10 L529.00,285.88 L529.50,287.81 L530.00,289.87 L530.50,291.94 L531.00,293.90 L531.50,295.72 L532.00,297.47 L532.50,299.17 L533.00,300.84 L533.50,302.51 L534.00,304.22 L534.50,305.87 L535.00,307.39 L535.50,308.68 L536.00,309.74 L536.50,310.71 L537.00,311.74 L537.50,312.96 L538.00,314.37 L538.50,315.89 L539.00,317.43 L539.50,318.93 L540.00,320.30 L540.50,321.57 L541.00,322.80 L541.50,323.98 L542.00,325.13 L542.50,326.23 L543.00,327.29 L543.50,328.30 L544.00,329.25 L544.50,330.17 L545.00,331.05 L545.50,331.91 L546.00,332.76 L546.50,333.60 L547.00,334.45 L547.50,335.30 L548.00,336.14 L548.50,336.98 L549.00,337.80 L549.50,338.59 L550.00,339.36 L550.50,340.10 L551.00,340.80 L551.50,341.47 L552.00,342.11 L552.50,342.72 L553.00,343.31 L553.50,343.87 L554.00,344.40 L554.50,344.90 L555.00,345.36 L555.50,345.81 L556.00,346.23 L556.50,346.65 L557.00,347.07 L557.50,347.50 L558.00,347.94 L558.50,348.39 L559.00,348.85 L559.50,349.30 L560.00,349.74 L560.50,350.16 L561.00,350.55 L561.50,350.90 L562.00,351.22 L562.50,351.53 L563.00,351.82 L563.50,352.09 L564.00,352.34 L564.50,352.58 L565.00,352.80 L565.50,353.01 L566.00,353.20 L566.50,353.38 L567.00,353.56 L567.50,353.71 L568.00,353.85 L568.50,353.97 L569.00,354.09 L569.50,354.19 L570.00,354.29 L570.50,354.39 L571.00,354.48 L571.50,354.56 L572.00,354.63 L572.50,354.70 L573.00,354.77 L573.50,354.84 L574.00,354.90 L574.50,354.97 L575.00,355.03 L575.50,355.09 L576.00,355.13 L576.50,355.17 L577.00,355.19 L577.50,355.20 L578.00,355.19 L578.50,355.18 L579.00,355.15 L579.50,355.11 L580.00,355.07 L580.50,355.02 L581.00,354.96 L581.50,354.91 L582.00,354.85 L582.50,354.80 L583.00,354.74 L583.50,354.68 L584.00,354.60 L584.50,354.53 L585.00,354.44 L585.50,354.36 L586.00,354.27 L586.50,354.19 L587.00,354.10 L587.50,354.02 L588.00,353.93 L588.50,353.85 L589.00,353.76 L589.50,353.67 L590.00,353.59 L590.50,353.50 L591.00,353.41 L591.50,353.32 L592.00,353.22 L592.50,353.13 L593.00,353.03 L593.50,352.92 L594.00,352.82 L594.50,352.71 L595.00,352.60 L595.50,352.48 L596.00,352.36 L596.50,352.23 L597.00,352.09 L597.50,351.95 L598.00,351.80 L598.50,351.65 L599.00,351.50 L599.50,351.35 L600.00,351.19 L600.50,351.04 L601.00,350.88 L601.50,350.73 L602.00,350.59 L602.50,350.44 L603.00,350.30 L603.50,350.16 L604.00,350.01 L604.50,349.85 L605.00,349.70 L605.50,349.54 L606.00,349.39 L606.50,349.24 L607.00,349.10 L607.50,348.97 L608.00,348.85 L608.50,348.74 L609.00,348.66 L609.50,348.59 L610.00,348.53 L610.50,348.47 L611.00,348.41 L611.50,348.35 L612.00,348.30 L612.50,348.25 L613.00,348.20 L613.50,348.15 L614.00,348.11 L614.50,348.07 L615.00,348.03 L615.50,348.00 L616.00,347.97 L616.50,347.94 L617.00,347.93 L617.50,347.91 L618.00,347.90 L618.50,347.90 L619.00,347.90 L619.50,347.91 L620.00,347.93 L620.50,347.94 L621.00,347.97 L621.50,348.00 L622.00,348.03 L622.50,348.07 L623.00,348.11 L623.50,348.15 L624.00,348.20 L624.50,348.25 L625.00,348.30 L625.50,348.35 L626.00,348.41 L626.50,348.47 L627.00,348.53 L627.50,348.59 L628.00,348.66 L628.50,348.74 L629.00,348.85 L629.50,348.97 L630.00,349.10 L630.50,349.24 L631.00,349.39 L631.50,349.54 L632.00,349.70 L632.50,349.85 L633.00,350.01 L633.50,350.16 L634.00,350.30 L634.50,350.44" stroke="#ff00ff" stroke-dasharray="1.6 1.78"/>
<path class="c" d="M131.00,341.80 L131.50,341.80 L132.00,341.80 L132.50,341.80 L133.00,341.80 L133.50,341.80 L134.00,341.80 L134.50,341.80 L135.00,341.80 L135.50,341.80 L136.00,341.80 L136.50,341.80 L137.00,341.80 L137.50,341.80 L138.00,341.80 L138.50,341.80 L139.00,341.80 L139.50,341.80 L140.00,341.80 L140.50,341.80 L141.00,341.80 L141.50,341.80 L142.00,341.80 L142.50,341.80 L143.00,341.80 L143.50,341.80 L144.00,341.80 L144.50,341.80 L145.00,341.80 L145.50,341.80 L146.00,341.80 L146.50,341.80 L147.00,341.80 L147.50,341.80 L148.00,341.80 L148.50,341.80 L149.00,341.80 L149.50,341.80 L150.00,341.80 L150.50,341.80 L151.00,341.80 L151.50,341.80 L152.00,341.80 L152.50,341.80 L153.00,341.80 L153.50,341.80 L154.00,341.80 L154.50,341.80 L155.00,341.80 L155.50,341.80 L156.00,341.80 L156.50,341.80 L157.00,341.80 L157.50,341.80 L158.00,341.80 L158.50,341.80 L159.00,341.80 L159.50,341.80 L160.00,341.80 L160.50,341.80 L161.00,341.80 L161.50,341.80 L162.00,341.80 L162.50,341.80 L163.00,341.80 L163.50,341.80 L164.00,341.80 L164.50,341.80 L165.00,341.80 L165.50,341.80 L166.00,341.80 L166.50,341.80 L167.00,341.80 L167.50,341.80 L168.00,341.80 L168.50,341.80 L169.00,341.80 L169.50,341.80 L170.00,341.80 L170.50,341.80 L171.00,341.80 L171.50,341.80 L172.00,341.79 L172.50,341.79 L173.00,341.79 L173.50,341.78 L174.00,341.77 L174.50,341.76 L175.00,341.75 L175.50,341.74 L176.00,341.73 L176.50,341.72 L177.00,341.71 L177.50,341.70 L178.00,341.68 L178.50,341.67 L179.00,341.66 L179.50,341.64 L180.00,341.63 L180.50,341.61 L181.00,341.59 L181.50,341.57 L182.00,341.54 L182.50,341.51 L183.00,341.47 L183.50,341.43 L184.00,341.38 L184.50,341.34 L185.00,341.29 L185.50,341.24 L186.00,341.19 L186.50,341.14 L187.00,341.10 L187.50,341.05 L188.00,341.01 L188.50,340.98 L189.00,340.95 L189.50,340.92 L190.00,340.89 L190.50,340.86 L191.00,340.83 L191.50,340.81 L192.00,340.78 L192.50,340.75 L193.00,340.72 L193.50,340.68 L194.00,340.64 L194.50,340.60 L195.00,340.55 L195.50,340.49 L196.00,340.42 L196.50,340.35 L197.00,340.27 L197.50,340.18 L198.00,340.10 L198.50,340.01 L199.00,339.92 L199.50,339.82 L200.00,339.73 L200.50,339.65 L201.00,339.56 L201.50,339.49 L202.00,339.41 L202.50,339.35 L203.00,339.28 L203.50,339.22 L204.00,339.16 L204.50,339.10 L205.00,339.04 L205.50,338.99 L206.00,338.93 L206.50,338.87 L207.00,338.82 L207.50,338.76 L208.00,338.70 L208.50,338.64 L209.00,338.58 L209.50,338.52 L210.00,338.46 L210.50,338.39 L211.00,338.33 L211.50,338.27 L212.00,338.21 L212.50,338.14 L213.00,338.08 L213.50,338.02 L214.00,337.96 L214.50,337.90 L215.00,337.84 L215.50,337.78 L216.00,337.72 L216.50,337.66 L217.00,337.61 L217.50,337.55 L218.00,337.50 L218.50,337.45 L219.00,337.40 L219.50,337.35 L220.00,337.30 L220.50,337.25 L221.00,337.20 L221.50,337.15 L222.00,337.11 L222.50,337.06 L223.00,337.02 L223.50,336.98 L224.00,336.94 L224.50,336.90 L225.00,336.86 L225.50,336.82 L226.00,336.79 L226.50,336.75 L227.00,336.71 L227.50,336.68 L228.00,336.64 L228.50,336.61 L229.00,336.58 L229.50,336.55 L230.00,336.52 L230.50,336.49 L231.00,336.46 L231.50,336.44 L232.00,336.42 L232.50,336.40 L233.00,336.38 L233.50,336.36 L234.00,336.35 L234.50,336.33 L235.00,336.31 L235.50,336.30 L236.00,336.28 L236.50,336.27 L237.00,336.26 L237.50,336.25 L238.00,336.23 L238.50,336.22 L239.00,336.22 L239.50,336.21 L240.00,336.20 L240.50,336.20 L241.00,336.20 L241.50,336.21 L242.00,336.22 L242.50,336.22 L243.00,336.23 L243.50,336.25 L244.00,336.26 L244.50,336.27 L245.00,336.28 L245.50,336.30 L246.00,336.31 L246.50,336.33 L247.00,336.35 L247.50,336.36 L248.00,336.38 L248.50,336.40 L249.00,336.42 L249.50,336.44 L250.00,336.46 L250.50,336.49 L251.00,336.52 L251.50,336.55 L252.00,336.58 L252.50,336.61 L253.00,336.64 L253.50,336.68 L254.00,336.71 L254.50,336.75 L255.00,336.79 L255.50,336.82 L256.00,336.86 L256.50,336.90 L257.00,336.94 L257.50,336.98 L258.00,337.02 L258.50,337.06 L259.00,337.11 L259.50,337.15 L260.00,337.20 L260.50,337.25 L261.00,337.30 L261.50,337.35 L262.00,337.40 L262.50,337.45 L263.00,337.50 L263.50,337.55 L264.00,337.61 L264.50,337.66 L265.00,337.72 L265.50,337.78 L266.00,337.84 L266.50,337.90 L267.00,337.96 L267.50,338.02 L268.00,338.08 L268.50,338.14 L269.00,338.21 L269.50,338.27 L270.00,338.33 L270.50,338.39 L271.00,338.46 L271.50,338.52 L272.00,338.58 L272.50,338.64 L273.00,338.70 L273.50,338.76 L274.00,338.82 L274.50,338.87 L275.00,338.93 L275.50,338.99 L276.00,339.04 L276.50,339.10 L277.00,339.16 L277.50,339.22 L278.00,339.28 L278.50,339.35 L279.00,339.41 L279.50,339.49 L280.00,339.56 L280.50,339.65 L281.00,339.73 L281.50,339.82 L282.00,339.92 L282.50,340.01 L283.00,340.10 L283.50,340.18 L284.00,340.27 L284.50,340.35 L285.00,340.42 L285.50,340.49 L286.00,340.55 L286.50,340.60 L287.00,340.64 L287.50,340.68 L288.00,340.72 L288.50,340.75 L289.00,340.78 L289.50,340.81 L290.00,340.83 L290.50,340.86 L291.00,340.89 L291.50,340.92 L292.00,340.95 L292.50,340.98 L293.00,341.01 L293.50,341.05 L294.00,341.10 L294.50,341.14 L295.00,341.19 L295.50,341.24 L296.00,341.29 L296.50,341.34 L297.00,341.38 L297.50,341.43 L298.00,341.47 L298.50,341.51 L299.00,341.54 L299.50,341.57 L300.00,341.59 L300.50,341.61 L301.00,341.63 L301.50,341.64 L302.00,341.66 L302.50,341.67 L303.00,341.68 L303.50,341.70 L304.00,341.71 L304.50,341.72 L305.00,341.73 L305.50,341.74 L306.00,341.75 L306.50,341.76 L307.00,341.77 L307.50,341.78 L308.00,341.79 L308.50,341.79 L309.00,341.79 L309.50,341.80 L310.00,341.80 L310.50,341.80 L311.00,341.80 L311.50,341.80 L312.00,341.80 L312.50,341.80 L313.00,341.80 L313.50,341.80 L314.00,341.80 L314.50,341.80 L315.00,341.80 L315.50,341.80 L316.00,341.80 L316.50,341.80 L317.00,341.80 L317.50,341.80 L318.00,341.80 L318.50,341.80 L319.00,341.80 L319.50,341.80 L320.00,341.80 L320.50,341.80 L321.00,341.80 L321.50,341.80 L322.00,341.80 L322.50,341.80 L323.00,341.80 L323.50,341.80 L324.00,341.80 L324.50,341.80 L325.00,341.80 L325.50,341.80 L326.00,341.80 L326.50,341.80 L327.00,341.80 L327.50,341.80 L328.00,341.80 L328.50,341.80 L329.00,341.80 L329.50,341.80 L330.00,341.80 L330.50,341.80 L331.00,341.80 L331.50,341.80 L332.00,341.80 L332.50,341.80 L333.00,341.80 L333.50,341.80 L334.00,341.80 L334.50,341.80 L335.00,341.80 L335.50,341.80 L336.00,341.80 L336.50,341.80 L337.00,341.80 L337.50,341.80 L338.00,341.80 L338.50,341.80 L339.00,341.80 L339.50,341.80 L340.00,341.80 L340.50,341.80 L341.00,341.80 L341.50,341.80 L342.00,341.80 L342.50,341.80 L343.00,341.80 L343.50,341.80 L344.00,341.80 L344.50,341.80 L345.00,341.80 L345.50,341.80 L346.00,341.80 L346.50,341.80 L347.00,341.80 L347.50,341.80 L348.00,341.80 L348.50,341.80 L349.00,341.80 L349.50,341.80 L350.00,341.80 L350.50,341.80 L351.00,341.80 L351.50,341.80 L352.00,341.80 L352.50,341.80 L353.00,341.80 L353.50,341.80 L354.00,341.80 L354.50,341.80 L355.00,341.80 L355.50,341.80 L356.00,341.80 L356.50,341.80 L357.00,341.80 L357.50,341.80 L358.00,341.80 L358.50,341.80 L359.00,341.80 L359.50,341.80 L360.00,341.80 L360.50,341.80 L361.00,341.80 L361.50,341.80 L362.00,341.80 L362.50,341.80 L363.00,341.80 L363.50,341.80 L364.00,341.80 L364.50,341.80 L365.00,341.80 L365.50,341.80 L366.00,341.80 L366.50,341.80 L367.00,341.80 L367.50,341.80 L368.00,341.80 L368.50,341.80 L369.00,341.80 L369.50,341.80 L370.00,341.80 L370.50,341.80 L371.00,341.80 L371.50,341.80 L372.00,341.80 L372.50,341.80 L373.00,341.80 L373.50,341.80 L374.00,341.80 L374.50,341.80 L375.00,341.80 L375.50,341.80 L376.00,341.80 L376.50,341.80 L377.00,341.80 L377.50,341.80 L378.00,341.80 L378.50,341.80 L379.00,341.80 L379.50,341.80 L380.00,341.80 L380.50,341.80 L381.00,341.80 L381.50,341.80 L382.00,341.80 L382.50,341.80 L383.00,341.80 L383.50,341.80 L384.00,341.80 L384.50,341.80 L385.00,341.80 L385.50,341.80 L386.00,341.80 L386.50,341.80 L387.00,341.80 L387.50,341.80 L388.00,341.80 L388.50,341.80 L389.00,341.80 L389.50,341.80 L390.00,341.80 L390.50,341.80 L391.00,341.80 L391.50,341.80 L392.00,341.80 L392.50,341.80 L393.00,341.80 L393.50,341.80 L394.00,341.80 L394.50,341.80 L395.00,341.80 L395.50,341.80 L396.00,341.80 L396.50,341.80 L397.00,341.80 L397.50,341.80 L398.00,341.80 L398.50,341.80 L399.00,341.80 L399.50,341.80 L400.00,341.80 L400.50,341.80 L401.00,341.80 L401.50,341.80 L402.00,341.80 L402.50,341.80 L403.00,341.80 L403.50,341.80 L404.00,341.80 L404.50,341.80 L405.00,341.80 L405.50,341.80 L406.00,341.80 L406.50,341.80 L407.00,341.80 L407.50,341.80 L408.00,341.80 L408.50,341.80 L409.00,341.80 L409.50,341.80 L410.00,341.80 L410.50,341.80 L411.00,341.80 L411.50,341.80 L412.00,341.80 L412.50,341.80 L413.00,341.80 L413.50,341.80 L414.00,341.80 L414.50,341.80 L415.00,341.80 L415.50,341.80 L416.00,341.80 L416.50,341.80 L417.00,341.80 L417.50,341.80 L418.00,341.80 L418.50,341.80 L419.00,341.80 L419.50,341.80 L420.00,341.80 L420.50,341.80 L421.00,341.80 L421.50,341.80 L422.00,341.80 L422.50,341.80 L423.00,341.80 L423.50,341.80 L424.00,341.79 L424.50,341.79 L425.00,341.79 L425.50,341.78 L426.00,341.77 L426.50,341.76 L427.00,341.75 L427.50,341.74 L428.00,341.73 L428.50,341.72 L429.00,341.71 L429.50,341.70 L430.00,341.68 L430.50,341.67 L431.00,341.66 L431.50,341.64 L432.00,341.63 L432.50,341.61 L433.00,341.59 L433.50,341.57 L434.00,341.54 L434.50,341.51 L435.00,341.47 L435.50,341.43 L436.00,341.38 L436.50,341.34 L437.00,341.29 L437.50,341.24 L438.00,341.19 L438.50,341.14 L439.00,341.10 L439.50,341.05 L440.00,341.01 L440.50,340.98 L441.00,340.95 L441.50,340.92 L442.00,340.89 L442.50,340.86 L443.00,340.83 L443.50,340.81 L444.00,340.78 L444.50,340.75 L445.00,340.72 L445.50,340.68 L446.00,340.64 L446.50,340.60 L447.00,340.55 L447.50,340.49 L448.00,340.42 L448.50,340.35 L449.00,340.27 L449.50,340.18 L450.00,340.10 L450.50,340.01 L451.00,339.92 L451.50,339.82 L452.00,339.73 L452.50,339.65 L453.00,339.56 L453.50,339.49 L454.00,339.41 L454.50,339.35 L455.00,339.28 L455.50,339.22 L456.00,339.16 L456.50,339.10 L457.00,339.04 L457.50,338.99 L458.00,338.93 L458.50,338.87 L459.00,338.82 L459.50,338.76 L460.00,338.70 L460.50,338.64 L461.00,338.58 L461.50,338.52 L462.00,338.46 L462.50,338.39 L463.00,338.33 L463.50,338.27 L464.00,338.21 L464.50,338.14 L465.00,338.08 L465.50,338.02 L466.00,337.96 L466.50,337.90 L467.00,337.84 L467.50,337.78 L468.00,337.72 L468.50,337.66 L469.00,337.61 L469.50,337.55 L470.00,337.50 L470.50,337.45 L471.00,337.40 L471.50,337.35 L472.00,337.30 L472.50,337.25 L473.00,337.20 L473.50,337.15 L474.00,337.11 L474.50,337.06 L475.00,337.02 L475.50,336.98 L476.00,336.94 L476.50,336.90 L477.00,336.86 L477.50,336.82 L478.00,336.79 L478.50,336.75 L479.00,336.71 L479.50,336.68 L480.00,336.64 L480.50,336.61 L481.00,336.58 L481.50,336.55 L482.00,336.52 L482.50,336.49 L483.00,336.46 L483.50,336.44 L484.00,336.42 L484.50,336.40 L485.00,336.38 L485.50,336.36 L486.00,336.35 L486.50,336.33 L487.00,336.31 L487.50,336.30 L488.00,336.28 L488.50,336.27 L489.00,336.26 L489.50,336.25 L490.00,336.23 L490.50,336.22 L491.00,336.22 L491.50,336.21 L492.00,336.20 L492.50,336.20 L493.00,336.20 L493.50,336.21 L494.00,336.22 L494.50,336.22 L495.00,336.23 L495.50,336.25 L496.00,336.26 L496.50,336.27 L497.00,336.28 L497.50,336.30 L498.00,336.31 L498.50,336.33 L499.00,336.35 L499.50,336.36 L500.00,336.38 L500.50,336.40 L501.00,336.42 L501.50,336.44 L502.00,336.46 L502.50,336.49 L503.00,336.52 L503.50,336.55 L504.00,336.58 L504.50,336.61 L505.00,336.64 L505.50,336.68 L506.00,336.71 L506.50,336.75 L507.00,336.79 L507.50,336.82 L508.00,336.86 L508.50,336.90 L509.00,336.94 L509.50,336.98 L510.00,337.02 L510.50,337.06 L511.00,337.11 L511.50,337.15 L512.00,337.20 L512.50,337.25 L513.00,337.30 L513.50,337.35 L514.00,337.40 L514.50,337.45 L515.00,337.50 L515.50,337.55 L516.00,337.61 L516.50,337.66 L517.00,337.72 L517.50,337.78 L518.00,337.84 L518.50,337.90 L519.00,337.96 L519.50,338.02 L520.00,338.08 L520.50,338.14 L521.00,338.21 L521.50,338.27 L522.00,338.33 L522.50,338.39 L523.00,338.46 L523.50,338.52 L524.00,338.58 L524.50,338.64 L525.00,338.70 L525.50,338.76 L526.00,338.82 L526.50,338.87 L527.00,338.93 L527.50,338.99 L528.00,339.04 L528.50,339.10 L529.00,339.16 L529.50,339.22 L530.00,339.28 L530.50,339.35 L531.00,339.41 L531.50,339.49 L532.00,339.56 L532.50,339.65 L533.00,339.73 L533.50,339.82 L534.00,339.92 L534.50,340.01 L535.00,340.10 L535.50,340.18 L536.00,340.27 L536.50,340.35 L537.00,340.42 L537.50,340.49 L538.00,340.55 L538.50,340.60 L539.00,340.64 L539.50,340.68 L540.00,340.72 L540.50,340.75 L541.00,340.78 L541.50,340.81 L542.00,340.83 L542.50,340.86 L543.00,340.89 L543.50,340.92 L544.00,340.95 L544.50,340.98 L545.00,341.01 L545.50,341.05 L546.00,341.10 L546.50,341.14 L547.00,341.19 L547.50,341.24 L548.00,341.29 L548.50,341.34 L549.00,341.38 L549.50,341.43 L550.00,341.47 L550.50,341.51 L551.00,341.54 L551.50,341.57 L552.00,341.59 L552.50,341.61 L553.00,341.63 L553.50,341.64 L554.00,341.66 L554.50,341.67 L555.00,341.68 L555.50,341.70 L556.00,341.71 L556.50,341.72 L557.00,341.73 L557.50,341.74 L558.00,341.75 L558.50,341.76 L559.00,341.77 L559.50,341.78 L560.00,341.79 L560.50,341.79 L561.00,341.79 L561.50,341.80 L562.00,341.80 L562.50,341.80 L563.00,341.80 L563.50,341.80 L564.00,341.80 L564.50,341.80 L565.00,341.80 L565.50,341.80 L566.00,341.80 L566.50,341.80 L567.00,341.80 L567.50,341.80 L568.00,341.80 L568.50,341.80 L569.00,341.80 L569.50,341.80 L570.00,341.80 L570.50,341.80 L571.00,341.80 L571.50,341.80 L572.00,341.80 L572.50,341.80 L573.00,341.80 L573.50,341.80 L574.00,341.80 L574.50,341.80 L575.00,341.80 L575.50,341.80 L576.00,341.80 L576.50,341.80 L577.00,341.80 L577.50,341.80 L578.00,341.80 L578.50,341.80 L579.00,341.80 L579.50,341.80 L580.00,341.80 L580.50,341.80 L581.00,341.80 L581.50,341.80 L582.00,341.80 L582.50,341.80 L583.00,341.80 L583.50,341.80 L584.00,341.80 L584.50,341.80 L585.00,341.80 L585.50,341.80 L586.00,341.80 L586.50,341.80 L587.00,341.80 L587.50,341.80 L588.00,341.80 L588.50,341.80 L589.00,341.80 L589.50,341.80 L590.00,341.80 L590.50,341.80 L591.00,341.80 L591.50,341.80 L592.00,341.80 L592.50,341.80 L593.00,341.80 L593.50,341.80 L594.00,341.80 L594.50,341.80 L595.00,341.80 L595.50,341.80 L596.00,341.80 L596.50,341.80 L597.00,341.80 L597.50,341.80 L598.00,341.80 L598.50,341.80 L599.00,341.80 L599.50,341.80 L600.00,341.80 L600.50,341.80 L601.00,341.80 L601.50,341.80 L602.00,341.80 L602.50,341.80 L603.00,341.80 L603.50,341.80 L604.00,341.80 L604.50,341.80 L605.00,341.80 L605.50,341.80 L606.00,341.80 L606.50,341.80 L607.00,341.80 L607.50,341.80 L608.00,341.80 L608.50,341.80 L609.00,341.80 L609.50,341.80 L610.00,341.80 L610.50,341.80 L611.00,341.80 L611.50,341.80 L612.00,341.80 L612.50,341.80 L613.00,341.80 L613.50,341.80 L614.00,341.80 L614.50,341.80 L615.00,341.80 L615.50,341.80 L616.00,341.80 L616.50,341.80 L617.00,341.80 L617.50,341.80 L618.00,341.80 L618.50,341.80 L619.00,341.80 L619.50,341.80 L620.00,341.80 L620.50,341.80 L621.00,341.80 L621.50,341.80 L622.00,341.80 L622.50,341.80 L623.00,341.80 L623.50,341.80 L624.00,341.80 L624.50,341.80 L625.00,341.80 L625.50,341.80 L626.00,341.80 L626.50,341.80 L627.00,341.80 L627.50,341.80 L628.00,341.80 L628.50,341.80 L629.00,341.80 L629.50,341.80 L630.00,341.80 L630.50,341.80 L631.00,341.80 L631.50,341.80 L632.00,341.80 L632.50,341.80 L633.00,341.80 L633.50,341.80 L634.00,341.80 L634.50,341.80" stroke="#0000ff" stroke-dasharray="3.0 3.76"/>
<path class="c" d="M190.00,355.60 L190.50,355.38 L191.00,355.01 L191.50,354.55 L192.00,353.98 L192.50,353.20 L193.00,352.25 L193.50,351.16 L194.00,349.94 L194.50,348.41 L195.00,346.59 L195.50,344.42 L196.00,341.60 L196.50,338.36 L197.00,335.05 L197.50,331.84 L198.00,328.33 L198.50,323.99 L199.00,317.69 L199.50,313.00 L200.00,309.52 L200.50,305.63 L201.00,300.81 L201.50,295.23 L202.00,289.10 L202.50,283.51 L203.00,276.82 L203.50,270.32 L204.00,265.52 L204.50,260.73 L205.00,256.26 L205.50,252.06 L206.00,248.12 L206.50,244.35 L207.00,240.60 L207.50,237.00 L208.00,233.68 L208.50,230.88 L209.00,228.41 L209.50,226.21 L210.00,224.23 L210.50,222.39 L211.00,220.72 L211.50,219.24 L212.00,217.89 L212.50,216.61 L213.00,215.46 L213.50,214.50 L214.00,213.77 L214.50,213.16 L215.00,212.58 L215.50,212.07 L216.00,211.63 L216.50,211.29 L217.00,211.07 L217.50,210.97 L218.00,210.90 L218.50,210.85 L219.00,210.80 L219.50,210.76 L220.00,210.73 L220.50,210.71 L221.00,210.70 L221.50,210.72 L222.00,210.78 L222.50,210.88 L223.00,211.02 L223.50,211.17 L224.00,211.34 L224.50,211.51 L225.00,211.68 L225.50,211.84 L226.00,211.98 L226.50,212.11 L227.00,212.24 L227.50,212.38 L228.00,212.52 L228.50,212.65 L229.00,212.79 L229.50,212.92 L230.00,213.04 L230.50,213.16 L231.00,213.28 L231.50,213.38 L232.00,213.48 L232.50,213.58 L233.00,213.67 L233.50,213.77 L234.00,213.86 L234.50,213.95 L235.00,214.04 L235.50,214.11 L236.00,214.18 L236.50,214.23 L237.00,214.28 L237.50,214.30 L238.00,214.33 L238.50,214.35 L239.00,214.37 L239.50,214.39 L240.00,214.40 L240.50,214.40 L241.00,214.40 L241.50,214.39 L242.00,214.37 L242.50,214.35 L243.00,214.33 L243.50,214.30 L244.00,214.28 L244.50,214.23 L245.00,214.18 L245.50,214.11 L246.00,214.04 L246.50,213.95 L247.00,213.86 L247.50,213.77 L248.00,213.67 L248.50,213.58 L249.00,213.48 L249.50,213.38 L250.00,213.28 L250.50,213.16 L251.00,213.04 L251.50,212.92 L252.00,212.79 L252.50,212.65 L253.00,212.52 L253.50,212.38 L254.00,212.24 L254.50,212.11 L255.00,211.98 L255.50,211.84 L256.00,211.68 L256.50,211.51 L257.00,211.34 L257.50,211.17 L258.00,211.02 L258.50,210.88 L259.00,210.78 L259.50,210.72 L260.00,210.70 L260.50,210.71 L261.00,210.73 L261.50,210.76 L262.00,210.80 L262.50,210.85 L263.00,210.90 L263.50,210.97 L264.00,211.07 L264.50,211.29 L265.00,211.63 L265.50,212.07 L266.00,212.58 L266.50,213.16 L267.00,213.77 L267.50,214.50 L268.00,215.46 L268.50,216.61 L269.00,217.89 L269.50,219.24 L270.00,220.72 L270.50,222.39 L271.00,224.23 L271.50,226.21 L272.00,228.41 L272.50,230.88 L273.00,233.68 L273.50,237.00 L274.00,240.60 L274.50,244.35 L275.00,248.12 L275.50,252.06 L276.00,256.26 L276.50,260.73 L277.00,265.52 L277.50,270.32 L278.00,276.82 L278.50,283.51 L279.00,289.10 L279.50,295.23 L280.00,300.81 L280.50,305.63 L281.00,309.52 L281.50,313.00 L282.00,317.69 L282.50,323.99 L283.00,328.33 L283.50,331.84 L284.00,335.05 L284.50,338.36 L285.00,341.60 L285.50,344.42 L286.00,346.59 L286.50,348.41 L287.00,349.94 L287.50,351.16 L288.00,352.25 L288.50,353.20 L289.00,353.98 L289.50,354.55 L290.00,355.01 L290.50,355.38 L291.00,355.60 M442.00,355.60 L442.50,355.38 L443.00,355.01 L443.50,354.55 L444.00,353.98 L444.50,353.20 L445.00,352.25 L445.50,351.16 L446.00,349.94 L446.50,348.41 L447.00,346.59 L447.50,344.42 L448.00,341.60 L448.50,338.36 L449.00,335.05 L449.50,331.84 L450.00,328.33 L450.50,323.99 L451.00,317.69 L451.50,313.00 L452.00,309.52 L452.50,305.63 L453.00,300.81 L453.50,295.23 L454.00,289.10 L454.50,283.51 L455.00,276.82 L455.50,270.32 L456.00,265.52 L456.50,260.73 L457.00,256.26 L457.50,252.06 L458.00,248.12 L458.50,244.35 L459.00,240.60 L459.50,237.00 L460.00,233.68 L460.50,230.88 L461.00,228.41 L461.50,226.21 L462.00,224.23 L462.50,222.39 L463.00,220.72 L463.50,219.24 L464.00,217.89 L464.50,216.61 L465.00,215.46 L465.50,214.50 L466.00,213.77 L466.50,213.16 L467.00,212.58 L467.50,212.07 L468.00,211.63 L468.50,211.29 L469.00,211.07 L469.50,210.97 L470.00,210.90 L470.50,210.85 L471.00,210.80 L471.50,210.76 L472.00,210.73 L472.50,210.71 L473.00,210.70 L473.50,210.72 L474.00,210.78 L474.50,210.88 L475.00,211.02 L475.50,211.17 L476.00,211.34 L476.50,211.51 L477.00,211.68 L477.50,211.84 L478.00,211.98 L478.50,212.11 L479.00,212.24 L479.50,212.38 L480.00,212.52 L480.50,212.65 L481.00,212.79 L481.50,212.92 L482.00,213.04 L482.50,213.16 L483.00,213.28 L483.50,213.38 L484.00,213.48 L484.50,213.58 L485.00,213.67 L485.50,213.77 L486.00,213.86 L486.50,213.95 L487.00,214.04 L487.50,214.11 L488.00,214.18 L488.50,214.23 L489.00,214.28 L489.50,214.30 L490.00,214.33 L490.50,214.35 L491.00,214.37 L491.50,214.39 L492.00,214.40 L492.50,214.40 L493.00,214.40 L493.50,214.39 L494.00,214.37 L494.50,214.35 L495.00,214.33 L495.50,214.30 L496.00,214.28 L496.50,214.23 L497.00,214.18 L497.50,214.11 L498.00,214.04 L498.50,213.95 L499.00,213.86 L499.50,213.77 L500.00,213.67 L500.50,213.58 L501.00,213.48 L501.50,213.38 L502.00,213.28 L502.50,213.16 L503.00,213.04 L503.50,212.92 L504.00,212.79 L504.50,212.65 L505.00,212.52 L505.50,212.38 L506.00,212.24 L506.50,212.11 L507.00,211.98 L507.50,211.84 L508.00,211.68 L508.50,211.51 L509.00,211.34 L509.50,211.17 L510.00,211.02 L510.50,210.88 L511.00,210.78 L511.50,210.72 L512.00,210.70 L512.50,210.71 L513.00,210.73 L513.50,210.76 L514.00,210.80 L514.50,210.85 L515.00,210.90 L515.50,210.97 L516.00,211.07 L516.50,211.29 L517.00,211.63 L517.50,212.07 L518.00,212.58 L518.50,213.16 L519.00,213.77 L519.50,214.50 L520.00,215.46 L520.50,216.61 L521.00,217.89 L521.50,219.24 L522.00,220.72 L522.50,222.39 L523.00,224.23 L523.50,226.21 L524.00,228.41 L524.50,230.88 L525.00,233.68 L525.50,237.00 L526.00,240.60 L526.50,244.35 L527.00,248.12 L527.50,252.06 L528.00,256.26 L528.50,260.73 L529.00,265.52 L529.50,270.32 L530.00,276.82 L530.50,283.51 L531.00,289.10 L531.50,295.23 L532.00,300.81 L532.50,305.63 L533.00,309.52 L533.50,313.00 L534.00,317.69 L534.50,323.99 L535.00,328.33 L535.50,331.84 L536.00,335.05 L536.50,338.36 L537.00,341.60 L537.50,344.42 L538.00,346.59 L538.50,348.41 L539.00,349.94 L539.50,351.16 L540.00,352.25 L540.50,353.20 L541.00,353.98 L541.50,354.55 L542.00,355.01 L542.50,355.38 L543.00,355.60" stroke="#00ff00" stroke-dasharray="5.75 2.4"/>
<path class="c" d="M199.00,356.50 L199.50,354.12 L200.00,352.39 L200.50,350.73 L201.00,348.45 L201.50,344.95 L202.00,341.00 L202.50,336.99 L203.00,333.00 L203.50,329.40 L204.00,325.74 L204.50,321.77 L205.00,317.58 L205.50,313.04 L206.00,308.76 L206.50,305.17 L207.00,302.00 L207.50,299.29 L208.00,296.84 L208.50,294.63 L209.00,292.69 L209.50,291.02 L210.00,289.48 L210.50,288.08 L211.00,286.87 L211.50,285.89 L212.00,285.06 L212.50,284.29 L213.00,283.63 L213.50,283.14 L214.00,282.86 L214.50,282.67 L215.00,282.50 L215.50,282.36 L216.00,282.26 L216.50,282.21 L217.00,282.21 L217.50,282.26 L218.00,282.37 L218.50,282.52 L219.00,282.70 L219.50,282.91 L220.00,283.13 L220.50,283.35 L221.00,283.56 L221.50,283.77 L222.00,284.01 L222.50,284.26 L223.00,284.54 L223.50,284.82 L224.00,285.11 L224.50,285.41 L225.00,285.71 L225.50,285.99 L226.00,286.27 L226.50,286.53 L227.00,286.77 L227.50,287.01 L228.00,287.24 L228.50,287.48 L229.00,287.71 L229.50,287.93 L230.00,288.15 L230.50,288.36 L231.00,288.56 L231.50,288.74 L232.00,288.92 L232.50,289.07 L233.00,289.22 L233.50,289.36 L234.00,289.50 L234.50,289.64 L235.00,289.78 L235.50,289.90 L236.00,290.03 L236.50,290.14 L237.00,290.24 L237.50,290.34 L238.00,290.41 L238.50,290.48 L239.00,290.53 L239.50,290.56 L240.00,290.59 L240.50,290.60 L241.00,290.59 L241.50,290.56 L242.00,290.53 L242.50,290.48 L243.00,290.41 L243.50,290.34 L244.00,290.24 L244.50,290.14 L245.00,290.03 L245.50,289.90 L246.00,289.78 L246.50,289.64 L247.00,289.50 L247.50,289.36 L248.00,289.22 L248.50,289.07 L249.00,288.92 L249.50,288.74 L250.00,288.56 L250.50,288.36 L251.00,288.15 L251.50,287.93 L252.00,287.71 L252.50,287.48 L253.00,287.24 L253.50,287.01 L254.00,286.77 L254.50,286.53 L255.00,286.27 L255.50,285.99 L256.00,285.71 L256.50,285.41 L257.00,285.11 L257.50,284.82 L258.00,284.54 L258.50,284.26 L259.00,284.01 L259.50,283.77 L260.00,283.56 L260.50,283.35 L261.00,283.13 L261.50,282.91 L262.00,282.70 L262.50,282.52 L263.00,282.37 L263.50,282.26 L264.00,282.21 L264.50,282.21 L265.00,282.26 L265.50,282.36 L266.00,282.50 L266.50,282.67 L267.00,282.86 L267.50,283.14 L268.00,283.63 L268.50,284.29 L269.00,285.06 L269.50,285.89 L270.00,286.87 L270.50,288.08 L271.00,289.48 L271.50,291.02 L272.00,292.69 L272.50,294.63 L273.00,296.84 L273.50,299.29 L274.00,302.00 L274.50,305.17 L275.00,308.76 L275.50,313.04 L276.00,317.58 L276.50,321.77 L277.00,325.74 L277.50,329.40 L278.00,333.00 L278.50,336.99 L279.00,341.00 L279.50,344.95 L280.00,348.45 L280.50,350.73 L281.00,352.39 L281.50,354.12 L282.00,356.50 M451.00,356.50 L451.50,354.12 L452.00,352.39 L452.50,350.73 L453.00,348.45 L453.50,344.95 L454.00,341.00 L454.50,336.99 L455.00,333.00 L455.50,329.40 L456.00,325.74 L456.50,321.77 L457.00,317.58 L457.50,313.04 L458.00,308.76 L458.50,305.17 L459.00,302.00 L459.50,299.29 L460.00,296.84 L460.50,294.63 L461.00,292.69 L461.50,291.02 L462.00,289.48 L462.50,288.08 L463.00,286.87 L463.50,285.89 L464.00,285.06 L464.50,284.29 L465.00,283.63 L465.50,283.14 L466.00,282.86 L466.50,282.67 L467.00,282.50 L467.50,282.36 L468.00,282.26 L468.50,282.21 L469.00,282.21 L469.50,282.26 L470.00,282.37 L470.50,282.52 L471.00,282.70 L471.50,282.91 L472.00,283.13 L472.50,283.35 L473.00,283.56 L473.50,283.77 L474.00,284.01 L474.50,284.26 L475.00,284.54 L475.50,284.82 L476.00,285.11 L476.50,285.41 L477.00,285.71 L477.50,285.99 L478.00,286.27 L478.50,286.53 L479.00,286.77 L479.50,287.01 L480.00,287.24 L480.50,287.48 L481.00,287.71 L481.50,287.93 L482.00,288.15 L482.50,288.36 L483.00,288.56 L483.50,288.74 L484.00,288.92 L484.50,289.07 L485.00,289.22 L485.50,289.36 L486.00,289.50 L486.50,289.64 L487.00,289.78 L487.50,289.90 L488.00,290.03 L488.50,290.14 L489.00,290.24 L489.50,290.34 L490.00,290.41 L490.50,290.48 L491.00,290.53 L491.50,290.56 L492.00,290.59 L492.50,290.60 L493.00,290.59 L493.50,290.56 L494.00,290.53 L494.50,290.48 L495.00,290.41 L495.50,290.34 L496.00,290.24 L496.50,290.14 L497.00,290.03 L497.50,289.90 L498.00,289.78 L498.50,289.64 L499.00,289.50 L499.50,289.36 L500.00,289.22 L500.50,289.07 L501.00,288.92 L501.50,288.74 L502.00,288.56 L502.50,288.36 L503.00,288.15 L503.50,287.93 L504.00,287.71 L504.50,287.48 L505.00,287.24 L505.50,287.01 L506.00,286.77 L506.50,286.53 L507.00,286.27 L507.50,285.99 L508.00,285.71 L508.50,285.41 L509.00,285.11 L509.50,284.82 L510.00,284.54 L510.50,284.26 L511.00,284.01 L511.50,283.77 L512.00,283.56 L512.50,283.35 L513.00,283.13 L513.50,282.91 L514.00,282.70 L514.50,282.52 L515.00,282.37 L515.50,282.26 L516.00,282.21 L516.50,282.21 L517.00,282.26 L517.50,282.36 L518.00,282.50 L518.50,282.67 L519.00,282.86 L519.50,283.14 L520.00,283.63 L520.50,284.29 L521.00,285.06 L521.50,285.89 L522.00,286.87 L522.50,288.08 L523.00,289.48 L523.50,291.02 L524.00,292.69 L524.50,294.63 L525.00,296.84 L525.50,299.29 L526.00,302.00 L526.50,305.17 L527.00,308.76 L527.50,313.04 L528.00,317.58 L528.50,321.77 L529.00,325.74 L529.50,329.40 L530.00,333.00 L530.50,336.99 L531.00,341.00 L531.50,344.95 L532.00,348.45 L532.50,350.73 L533.00,352.39 L533.50,354.12 L534.00,356.50" stroke="#ff0000"/>
<!-- frame -->
<path d="M130.95,16.0H653.4V355.8H130.95Z M130.95,185.85H653.4" stroke="#000" stroke-width="2.1" fill="none" stroke-linejoin="miter"/>
<!-- legend samples -->
<path class="c" d="M564.3,94.5H618.6" stroke="#ff0000"/>
<path class="c" d="M564.3,115.5H618.6" stroke="#00ff00" stroke-dasharray="5.75 2.4"/>
<path class="c" d="M564.3,136.9H615.6" stroke="#0000ff" stroke-dasharray="3.0 3.76"/>
<path class="c" d="M564.3,158.2H617.4" stroke="#ff00ff" stroke-dasharray="1.6 1.78"/>
<g filter="url(#nf)">
<text transform="translate(98.99,195.10) scale(1,1.035)" font-size="27">0</text>
<text transform="translate(61.46,161.10) scale(1,1.035)" font-size="27">0.02</text>
<text transform="translate(61.46,127.10) scale(1,1.035)" font-size="27">0.04</text>
<text transform="translate(61.46,93.10) scale(1,1.035)" font-size="27">0.06</text>
<text transform="translate(61.46,59.10) scale(1,1.035)" font-size="27">0.08</text>
<text transform="translate(76.47,25.10) scale(1,1.035)" font-size="27">0.</text><path transform="translate(98.99,25.10) scale(0.02700,0.02700)" d="M359,0H272V-505H101V-566C196,-572 268,-598 294,-709H359Z" fill="#000" stroke="none"/>
<text transform="translate(98.99,365.10) scale(1,1.035)" font-size="27">0</text>
<text transform="translate(61.46,331.10) scale(1,1.035)" font-size="27">0.02</text>
<text transform="translate(61.46,297.10) scale(1,1.035)" font-size="27">0.04</text>
<text transform="translate(61.46,263.10) scale(1,1.035)" font-size="27">0.06</text>
<text transform="translate(61.46,229.10) scale(1,1.035)" font-size="27">0.08</text>
<text transform="translate(666.80,195.10) scale(1,1.035)" font-size="27">0</text>
<text transform="translate(666.80,166.77) scale(1,1.035)" font-size="27">3</text>
<text transform="translate(666.80,138.43) scale(1,1.035)" font-size="27">6</text>
<text transform="translate(666.80,110.10) scale(1,1.035)" font-size="27">9</text>
<path transform="translate(666.80,81.77) scale(0.02700,0.02700)" d="M359,0H272V-505H101V-566C196,-572 268,-598 294,-709H359Z" fill="#000" stroke="none"/><text transform="translate(681.81,81.77) scale(1,1.035)" font-size="27">2</text>
<path transform="translate(666.80,53.44) scale(0.02700,0.02700)" d="M359,0H272V-505H101V-566C196,-572 268,-598 294,-709H359Z" fill="#000" stroke="none"/><text transform="translate(681.81,53.44) scale(1,1.035)" font-size="27">5</text>
<path transform="translate(666.80,25.10) scale(0.02700,0.02700)" d="M359,0H272V-505H101V-566C196,-572 268,-598 294,-709H359Z" fill="#000" stroke="none"/><text transform="translate(681.81,25.10) scale(1,1.035)" font-size="27">8</text>
<text transform="translate(666.80,365.10) scale(1,1.035)" font-size="27">0</text>
<text transform="translate(666.80,336.77) scale(1,1.035)" font-size="27">3</text>
<text transform="translate(666.80,308.43) scale(1,1.035)" font-size="27">6</text>
<text transform="translate(666.80,280.10) scale(1,1.035)" font-size="27">9</text>
<path transform="translate(666.80,251.77) scale(0.02700,0.02700)" d="M359,0H272V-505H101V-566C196,-572 268,-598 294,-709H359Z" fill="#000" stroke="none"/><text transform="translate(681.81,251.77) scale(1,1.035)" font-size="27">2</text>
<path transform="translate(666.80,223.44) scale(0.02700,0.02700)" d="M359,0H272V-505H101V-566C196,-572 268,-598 294,-709H359Z" fill="#000" stroke="none"/><text transform="translate(681.81,223.44) scale(1,1.035)" font-size="27">5</text>
<text transform="translate(126.44,383.60) scale(1,1.035)" font-size="27">0</text>
<text transform="translate(261.59,383.60) scale(1,1.035)" font-size="27">30</text>
<text transform="translate(404.24,383.60) scale(1,1.035)" font-size="27">60</text>
<text transform="translate(546.89,383.60) scale(1,1.035)" font-size="27">90</text>
<text transform="translate(553.30,101.30) scale(1,1.0)" text-anchor="end" font-size="20.3">proton</text>
<text transform="translate(553.30,122.10) scale(1,1.0)" text-anchor="end" font-size="20.3">neutron</text>
<text transform="translate(553.30,143.10) scale(1,1.0)" text-anchor="end" font-size="20.3">electron</text>
<text transform="translate(553.30,164.20) scale(1,1.0)" text-anchor="end" font-size="20.3">Coulomb</text>
<text transform="translate(539.70,70.90) scale(1,1.0)" font-size="20.3">vertical</text>
<text transform="translate(539.20,233.70) scale(1,1.0)" font-size="20.3">horizontal</text>
<text transform="translate(432.00,44.90) scale(1,1.035)" font-size="20" font-style="italic">Y</text>
<text transform="translate(444.60,51.20) scale(1,1.035)" font-size="17" font-style="italic">p</text>
<text transform="translate(453.10,44.90) scale(1,1.035)" font-size="20">= 0.3</text>
<text transform="translate(510.00,44.90) scale(1,1.035)" font-size="21" font-style="italic">&#961;</text>
<text transform="translate(520.40,50.50) scale(1,1.035)" font-size="16">B</text>
<text transform="translate(531.80,44.90) scale(1,1.035)" font-size="20" xml:space="preserve"> = 0.03 [fm</text>
<text transform="translate(626.60,35.60) scale(1,1.035)" font-size="16">&#8722;3</text>
<text transform="translate(645.60,44.90) scale(1,1.035)" font-size="20">]</text>
<text transform="translate(363.00,412.00) scale(1,1.035)" font-size="27" xml:space="preserve"><tspan font-style="italic">r</tspan><tspan dx="-1.3"> [fm]</tspan></text>
<text transform="translate(32.7,203.1) rotate(-90) scale(1,1.035)" font-size="27" xml:space="preserve"><tspan font-style="italic">&#961;</tspan><tspan dx="-1.2"> [fm</tspan><tspan font-size="21.6" dy="-11.5">&#8722;</tspan><tspan font-size="21.6" dy="-1.0">3</tspan><tspan dy="12.5">]</tspan></text>
<text transform="translate(725.5,114.0) rotate(90) scale(1,1.035)" font-size="27" xml:space="preserve"><tspan dy="1.5">&#8722;</tspan><tspan dy="-1.5">V</tspan><tspan font-size="21.6" dy="7.6">c</tspan><tspan dy="-7.6"> [MeV]</tspan></text>
</g>
</svg>
</body></html>
